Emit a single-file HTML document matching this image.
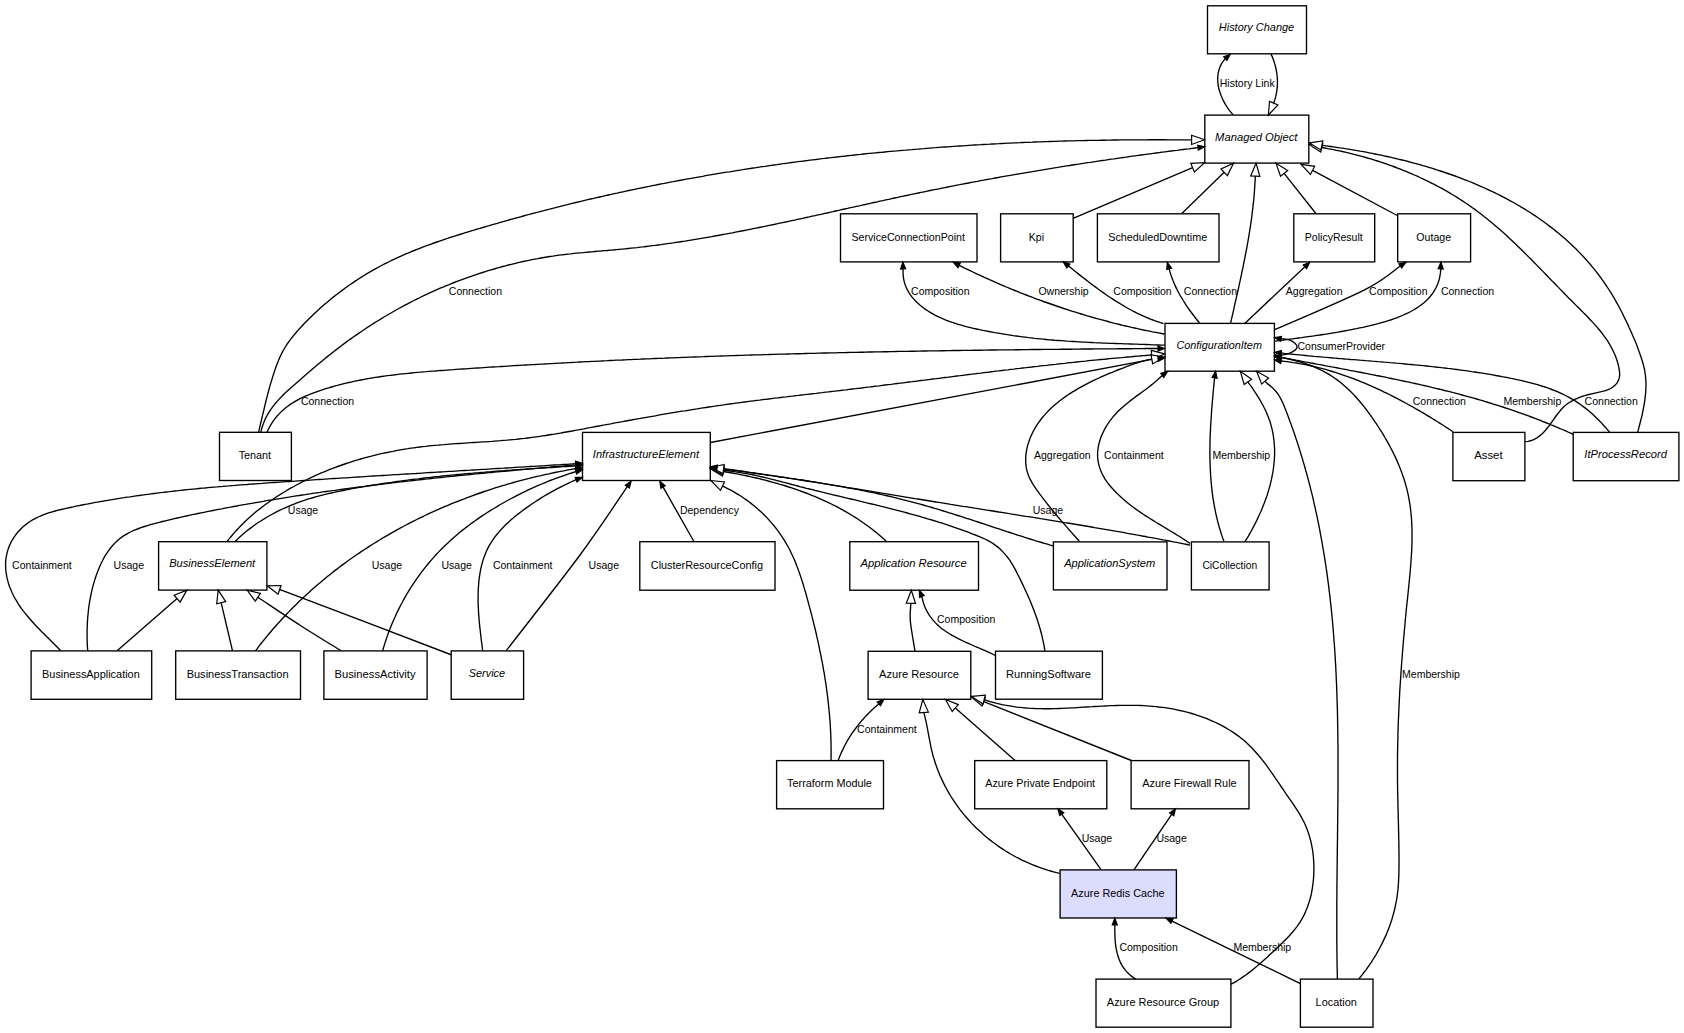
<!DOCTYPE html><html><head><meta charset="utf-8"><style>html,body{margin:0;padding:0;background:#fff;}svg{display:block;}</style></head><body>
<svg width="1684" height="1033" viewBox="0 0 1684 1033">
<rect x="0" y="0" width="1684" height="1033" fill="#fff"/>
<g fill="none" stroke="#000" stroke-width="1.35">
<path d="M1233.2,115.0 L1231.2,112.6 L1229.2,110.1 L1227.3,107.4 L1225.5,104.6 L1223.9,101.7 L1222.4,98.7 L1221.1,95.6 L1220.0,92.5 L1219.0,89.3 L1218.3,86.1 L1217.9,82.8 L1217.7,79.6 L1217.8,76.4 L1218.2,73.2 L1218.9,70.1 L1219.9,67.1 L1221.3,64.2 L1223.1,61.3 L1225.3,58.6"/>
<path d="M1271.0,54.0 L1272.4,57.1 L1273.6,60.2 L1274.6,63.4 L1275.5,66.7 L1276.2,70.0 L1276.8,73.3 L1277.2,76.7 L1277.4,80.0 L1277.4,83.4 L1277.3,86.7 L1276.9,90.1 L1276.4,93.4 L1275.7,96.7 L1274.8,99.9 L1273.7,103.1"/>
<path d="M258.6,432.2 L259.3,429.3 L259.9,426.4 L260.6,423.5 L261.3,420.6 L262.0,417.7 L262.7,414.7 L263.4,411.8 L264.1,408.9 L264.8,405.9 L265.5,403.0 L266.2,400.0 L267.0,397.1 L267.7,394.1 L268.5,391.2 L269.3,388.3 L270.1,385.4 L271.0,382.4 L271.9,379.5 L272.7,376.6 L273.7,373.8 L274.6,370.9 L275.6,368.0 L276.6,365.2 L277.7,362.4 L278.8,359.7 L280.0,356.9 L281.3,354.3 L282.6,351.6 L284.1,349.0 L285.6,346.5 L287.2,344.0 L288.9,341.6 L290.7,339.2 L292.5,336.8 L294.4,334.5 L296.4,332.2 L298.3,329.9 L300.4,327.7 L302.4,325.5 L304.5,323.3 L306.6,321.2 L308.8,319.0 L310.9,316.9 L313.1,314.8 L315.3,312.7 L317.5,310.7 L319.8,308.6 L322.0,306.6 L324.3,304.6 L326.6,302.7 L328.9,300.7 L331.2,298.8 L333.6,296.9 L336.0,295.0 L338.4,293.2 L340.8,291.4 L343.2,289.6 L345.6,287.8 L348.1,286.0 L350.6,284.3 L353.1,282.6 L355.6,280.9 L358.1,279.2 L360.6,277.6 L363.2,276.0 L365.8,274.4 L368.3,272.9 L370.9,271.4 L373.6,269.9 L376.2,268.4 L378.8,267.0 L381.5,265.5 L384.1,264.1 L386.8,262.8 L389.5,261.5 L392.2,260.1 L394.9,258.9 L397.6,257.6 L400.4,256.4 L403.1,255.1 L405.9,253.9 L408.6,252.8 L411.4,251.6 L414.2,250.5 L417.0,249.4 L419.8,248.3 L422.6,247.2 L425.4,246.1 L428.2,245.1 L431.1,244.1 L433.9,243.0 L436.8,242.0 L439.6,241.1 L442.5,240.1 L445.3,239.1 L448.2,238.2 L451.0,237.2 L453.9,236.3 L456.8,235.4 L459.7,234.5 L462.6,233.6 L465.4,232.7 L468.3,231.8 L471.2,230.9 L474.1,230.1 L477.0,229.2 L479.9,228.3 L482.8,227.5 L485.7,226.6 L488.6,225.8 L491.5,224.9 L494.4,224.1 L497.3,223.3 L500.2,222.4 L503.1,221.6 L506.0,220.8 L508.9,220.0 L511.8,219.2 L514.7,218.4 L517.6,217.6 L520.5,216.8 L523.4,216.0 L526.3,215.2 L529.3,214.4 L532.2,213.6 L535.1,212.8 L538.0,212.1 L540.9,211.3 L543.8,210.6 L546.7,209.8 L549.7,209.1 L552.6,208.3 L555.5,207.6 L558.4,206.8 L561.4,206.1 L564.3,205.4 L567.2,204.7 L570.1,203.9 L573.1,203.2 L576.0,202.5 L578.9,201.8 L581.8,201.1 L584.8,200.4 L587.7,199.7 L590.6,199.0 L593.6,198.4 L596.5,197.7 L599.4,197.0 L602.4,196.4 L605.3,195.7 L608.3,195.0 L611.2,194.4 L614.1,193.7 L617.1,193.1 L620.0,192.4 L623.0,191.8 L625.9,191.2 L628.8,190.5 L631.8,189.9 L634.7,189.3 L637.7,188.7 L640.6,188.1 L643.6,187.5 L646.5,186.9 L649.5,186.3 L652.4,185.7 L655.4,185.1 L658.3,184.5 L661.3,183.9 L664.2,183.4 L667.2,182.8 L670.1,182.2 L673.1,181.7 L676.1,181.1 L679.0,180.5 L682.0,180.0 L684.9,179.4 L687.9,178.9 L690.9,178.4 L693.8,177.8 L696.8,177.3 L699.7,176.8 L702.7,176.3 L705.7,175.7 L708.6,175.2 L711.6,174.7 L714.6,174.2 L717.5,173.7 L720.5,173.2 L723.5,172.7 L726.4,172.2 L729.4,171.8 L732.4,171.3 L735.4,170.8 L738.3,170.3 L741.3,169.9 L744.3,169.4 L747.3,168.9 L750.2,168.5 L753.2,168.0 L756.2,167.6 L759.2,167.1 L762.1,166.7 L765.1,166.3 L768.1,165.8 L771.1,165.4 L774.1,165.0 L777.0,164.6 L780.0,164.1 L783.0,163.7 L786.0,163.3 L789.0,162.9 L791.9,162.5 L794.9,162.1 L797.9,161.7 L800.9,161.3 L803.9,161.0 L806.9,160.6 L809.9,160.2 L812.8,159.8 L815.8,159.5 L818.8,159.1 L821.8,158.7 L824.8,158.4 L827.8,158.0 L830.8,157.7 L833.8,157.3 L836.8,157.0 L839.7,156.6 L842.7,156.3 L845.7,156.0 L848.7,155.6 L851.7,155.3 L854.7,155.0 L857.7,154.7 L860.7,154.4 L863.7,154.0 L866.7,153.7 L869.7,153.4 L872.7,153.1 L875.7,152.8 L878.7,152.5 L881.7,152.3 L884.7,152.0 L887.7,151.7 L890.7,151.4 L893.7,151.1 L896.7,150.9 L899.7,150.6 L902.7,150.3 L905.7,150.1 L908.7,149.8 L911.7,149.6 L914.7,149.3 L917.7,149.1 L920.7,148.8 L923.7,148.6 L926.7,148.3 L929.7,148.1 L932.7,147.9 L935.7,147.7 L938.7,147.4 L941.7,147.2 L944.7,147.0 L947.7,146.8 L950.7,146.6 L953.7,146.4 L956.7,146.2 L959.7,146.0 L962.8,145.8 L965.8,145.6 L968.8,145.4 L971.8,145.2 L974.8,145.0 L977.8,144.8 L980.8,144.7 L983.8,144.5 L986.8,144.3 L989.8,144.2 L992.8,144.0 L995.8,143.8 L998.9,143.7 L1001.9,143.5 L1004.9,143.4 L1007.9,143.2 L1010.9,143.1 L1013.9,142.9 L1016.9,142.8 L1019.9,142.7 L1022.9,142.5 L1025.9,142.4 L1029.0,142.3 L1032.0,142.2 L1035.0,142.0 L1038.0,141.9 L1041.0,141.8 L1044.0,141.7 L1047.0,141.6 L1050.0,141.5 L1053.0,141.4 L1056.1,141.3 L1059.1,141.2 L1062.1,141.1 L1065.1,141.0 L1068.1,140.9 L1071.1,140.9 L1074.1,140.8 L1077.1,140.7 L1080.2,140.6 L1083.2,140.6 L1086.2,140.5 L1089.2,140.4 L1092.2,140.4 L1095.2,140.3 L1098.2,140.3 L1101.2,140.2 L1104.3,140.2 L1107.3,140.1 L1110.3,140.1 L1113.3,140.0 L1116.3,140.0 L1119.3,139.9 L1122.3,139.9 L1125.3,139.9 L1128.4,139.9 L1131.4,139.8 L1134.4,139.8 L1137.4,139.8 L1140.4,139.8 L1143.4,139.8 L1146.4,139.8 L1149.4,139.7 L1152.5,139.7 L1155.5,139.7 L1158.5,139.7 L1161.5,139.7 L1164.5,139.7 L1167.5,139.8 L1170.5,139.8 L1173.5,139.8 L1176.5,139.8 L1179.6,139.8 L1182.6,139.8 L1185.6,139.9 L1188.6,139.9 L1191.6,139.9"/>
<path d="M260.9,432.2 L261.6,429.2 L262.4,426.2 L263.4,423.4 L264.6,420.6 L265.8,417.9 L267.2,415.3 L268.6,412.8 L270.2,410.3 L271.9,407.9 L273.7,405.6 L275.5,403.3 L277.4,401.1 L279.4,398.9 L281.5,396.7 L283.6,394.6 L285.7,392.5 L287.9,390.5 L290.2,388.4 L292.4,386.4 L294.7,384.4 L297.0,382.4 L299.3,380.4 L301.5,378.4 L303.8,376.4 L306.1,374.5 L308.4,372.5 L310.7,370.5 L313.1,368.5 L315.4,366.6 L317.7,364.6 L320.0,362.7 L322.4,360.8 L324.7,358.8 L327.1,356.9 L329.4,355.0 L331.8,353.1 L334.2,351.3 L336.6,349.4 L339.0,347.6 L341.4,345.7 L343.8,343.9 L346.2,342.1 L348.7,340.3 L351.1,338.6 L353.6,336.8 L356.1,335.1 L358.6,333.4 L361.1,331.7 L363.6,330.0 L366.1,328.3 L368.6,326.6 L371.1,325.0 L373.7,323.4 L376.2,321.8 L378.8,320.2 L381.4,318.6 L384.0,317.0 L386.6,315.5 L389.2,314.0 L391.8,312.5 L394.4,311.0 L397.0,309.5 L399.7,308.0 L402.3,306.6 L405.0,305.2 L407.6,303.8 L410.3,302.4 L413.0,301.0 L415.7,299.7 L418.4,298.3 L421.1,297.0 L423.8,295.7 L426.5,294.4 L429.2,293.1 L432.0,291.9 L434.7,290.7 L437.5,289.4 L440.2,288.2 L443.0,287.1 L445.8,285.9 L448.6,284.8 L451.4,283.6 L454.2,282.5 L457.0,281.4 L459.8,280.4 L462.6,279.3 L465.4,278.3 L468.2,277.3 L471.1,276.3 L473.9,275.3 L476.8,274.3 L479.6,273.4 L482.5,272.5 L485.4,271.6 L488.2,270.7 L491.1,269.8 L494.0,269.0 L496.9,268.1 L499.8,267.3 L502.7,266.5 L505.6,265.8 L508.5,265.0 L511.5,264.3 L514.4,263.6 L517.3,262.9 L520.3,262.2 L523.2,261.5 L526.1,260.9 L529.1,260.3 L532.0,259.7 L535.0,259.1 L538.0,258.6 L540.9,258.0 L543.9,257.5 L546.9,257.0 L549.9,256.5 L552.9,256.1 L555.8,255.6 L558.8,255.2 L561.8,254.8 L564.8,254.5 L567.8,254.1 L570.9,253.8 L573.9,253.4 L576.9,253.1 L579.9,252.8 L582.9,252.6 L585.9,252.3 L588.9,252.0 L592.0,251.8 L595.0,251.5 L598.0,251.2 L601.0,251.0 L604.0,250.7 L607.1,250.5 L610.1,250.2 L613.1,250.0 L616.1,249.7 L619.1,249.4 L622.2,249.1 L625.2,248.8 L628.2,248.5 L631.2,248.2 L634.2,247.9 L637.2,247.6 L640.2,247.2 L643.2,246.9 L646.2,246.5 L649.2,246.1 L652.2,245.7 L655.2,245.4 L658.2,245.0 L661.1,244.6 L664.1,244.1 L667.1,243.7 L670.1,243.3 L673.1,242.9 L676.1,242.4 L679.0,242.0 L682.0,241.5 L685.0,241.1 L688.0,240.6 L690.9,240.1 L693.9,239.6 L696.9,239.1 L699.8,238.6 L702.8,238.1 L705.8,237.6 L708.8,237.1 L711.7,236.6 L714.7,236.0 L717.6,235.5 L720.6,235.0 L723.6,234.4 L726.5,233.9 L729.5,233.3 L732.5,232.8 L735.4,232.2 L738.4,231.6 L741.3,231.0 L744.3,230.5 L747.2,229.9 L750.2,229.3 L753.1,228.7 L756.1,228.1 L759.1,227.5 L762.0,226.9 L765.0,226.3 L767.9,225.7 L770.9,225.1 L773.8,224.5 L776.8,223.8 L779.7,223.2 L782.7,222.6 L785.6,222.0 L788.6,221.3 L791.5,220.7 L794.5,220.1 L797.4,219.4 L800.4,218.8 L803.3,218.2 L806.3,217.5 L809.2,216.9 L812.1,216.2 L815.1,215.6 L818.0,214.9 L821.0,214.3 L823.9,213.6 L826.9,213.0 L829.8,212.3 L832.8,211.7 L835.7,211.0 L838.7,210.4 L841.6,209.7 L844.6,209.0 L847.5,208.4 L850.4,207.7 L853.4,207.1 L856.3,206.4 L859.3,205.8 L862.2,205.1 L865.2,204.5 L868.1,203.8 L871.1,203.2 L874.0,202.5 L877.0,201.9 L879.9,201.2 L882.9,200.6 L885.8,199.9 L888.8,199.3 L891.7,198.6 L894.7,198.0 L897.6,197.4 L900.6,196.7 L903.5,196.1 L906.5,195.5 L909.4,194.8 L912.4,194.2 L915.3,193.6 L918.3,193.0 L921.2,192.4 L924.2,191.8 L927.1,191.2 L930.1,190.5 L933.0,189.9 L936.0,189.3 L939.0,188.8 L941.9,188.2 L944.9,187.6 L947.8,187.0 L950.8,186.4 L953.8,185.8 L956.7,185.2 L959.7,184.7 L962.6,184.1 L965.6,183.5 L968.6,183.0 L971.5,182.4 L974.5,181.8 L977.5,181.3 L980.4,180.7 L983.4,180.2 L986.4,179.6 L989.3,179.1 L992.3,178.6 L995.3,178.0 L998.2,177.5 L1001.2,176.9 L1004.2,176.4 L1007.1,175.9 L1010.1,175.4 L1013.1,174.8 L1016.0,174.3 L1019.0,173.8 L1022.0,173.3 L1025.0,172.8 L1027.9,172.3 L1030.9,171.8 L1033.9,171.3 L1036.8,170.8 L1039.8,170.3 L1042.8,169.8 L1045.8,169.3 L1048.7,168.8 L1051.7,168.3 L1054.7,167.8 L1057.7,167.4 L1060.7,166.9 L1063.6,166.4 L1066.6,165.9 L1069.6,165.5 L1072.6,165.0 L1075.6,164.5 L1078.5,164.1 L1081.5,163.6 L1084.5,163.2 L1087.5,162.7 L1090.5,162.3 L1093.4,161.8 L1096.4,161.4 L1099.4,160.9 L1102.4,160.5 L1105.4,160.1 L1108.4,159.6 L1111.3,159.2 L1114.3,158.8 L1117.3,158.3 L1120.3,157.9 L1123.3,157.5 L1126.3,157.1 L1129.3,156.6 L1132.2,156.2 L1135.2,155.8 L1138.2,155.4 L1141.2,155.0 L1144.2,154.6 L1147.2,154.2 L1150.2,153.8 L1153.2,153.4 L1156.2,153.0 L1159.1,152.6 L1162.1,152.2 L1165.1,151.8 L1168.1,151.4 L1171.1,151.0 L1174.1,150.6 L1177.1,150.3 L1180.1,149.9 L1183.1,149.5 L1186.1,149.1 L1189.1,148.8 L1192.1,148.4 L1195.1,148.0 L1198.1,147.7"/>
<path d="M1072.5,218.6 L1192.6,167.7"/>
<path d="M1181.8,213.5 L1224.2,172.3"/>
<path d="M1230.5,323.4 L1231.2,320.4 L1231.9,317.3 L1232.6,314.3 L1233.3,311.3 L1234.0,308.2 L1234.6,305.2 L1235.3,302.2 L1236.0,299.1 L1236.7,296.1 L1237.4,293.0 L1238.1,290.0 L1238.8,286.9 L1239.4,283.9 L1240.1,280.9 L1240.7,277.8 L1241.4,274.8 L1242.0,271.7 L1242.7,268.7 L1243.3,265.6 L1243.9,262.6 L1244.5,259.5 L1245.1,256.4 L1245.7,253.4 L1246.3,250.3 L1246.9,247.3 L1247.4,244.2 L1248.0,241.1 L1248.5,238.1 L1249.0,235.0 L1249.5,231.9 L1250.0,228.8 L1250.5,225.8 L1250.9,222.7 L1251.4,219.6 L1251.8,216.5 L1252.2,213.4 L1252.5,210.3 L1252.9,207.3 L1253.2,204.2 L1253.6,201.1 L1253.9,198.0 L1254.1,194.9 L1254.4,191.8 L1254.6,188.6 L1254.8,185.5 L1255.0,182.4 L1255.2,179.3 L1255.3,176.2"/>
<path d="M1315.9,213.5 L1284.1,173.4"/>
<path d="M1398.2,216.0 L1312.6,170.4"/>
<path d="M1524.9,441.7 L1528.2,441.3 L1531.3,440.5 L1534.2,439.3 L1536.9,437.9 L1539.3,436.1 L1541.7,434.2 L1543.9,432.1 L1545.9,429.7 L1547.9,427.3 L1549.8,424.8 L1551.7,422.2 L1553.5,419.6 L1555.3,417.0 L1557.2,414.5 L1559.1,412.1 L1561.0,409.8 L1563.0,407.6 L1565.2,405.6 L1567.4,403.8 L1569.7,402.2 L1572.2,400.8 L1574.7,399.4 L1577.4,398.3 L1580.1,397.2 L1582.9,396.2 L1585.8,395.3 L1588.8,394.5 L1591.8,393.8 L1595.0,393.1 L1598.2,392.4 L1601.4,391.7 L1604.6,390.8 L1607.6,389.8 L1610.4,388.6 L1613.0,387.0 L1615.2,385.1 L1617.1,382.9 L1618.4,380.4 L1619.3,377.7 L1619.7,374.8 L1619.5,371.8 L1619.1,368.7 L1618.4,365.7 L1617.7,362.7 L1616.8,359.8 L1615.8,357.0 L1614.7,354.2 L1613.4,351.5 L1612.1,348.9 L1610.7,346.3 L1609.2,343.7 L1607.7,341.2 L1606.0,338.7 L1604.3,336.3 L1602.5,333.9 L1600.7,331.5 L1598.8,329.2 L1596.8,326.9 L1594.8,324.6 L1592.8,322.4 L1590.7,320.2 L1588.6,318.0 L1586.5,315.8 L1584.3,313.6 L1582.2,311.4 L1580.0,309.2 L1577.8,307.1 L1575.6,304.9 L1573.5,302.7 L1571.3,300.5 L1569.1,298.4 L1567.0,296.2 L1564.8,294.0 L1562.7,291.8 L1560.6,289.6 L1558.4,287.4 L1556.3,285.2 L1554.2,283.1 L1552.0,280.9 L1549.9,278.7 L1547.8,276.5 L1545.7,274.3 L1543.6,272.1 L1541.5,269.9 L1539.3,267.8 L1537.2,265.6 L1535.1,263.4 L1533.0,261.3 L1530.9,259.1 L1528.7,257.0 L1526.6,254.9 L1524.5,252.7 L1522.3,250.6 L1520.2,248.5 L1518.0,246.4 L1515.8,244.3 L1513.7,242.3 L1511.5,240.2 L1509.3,238.2 L1507.1,236.1 L1504.9,234.1 L1502.6,232.1 L1500.4,230.1 L1498.1,228.1 L1495.9,226.2 L1493.6,224.2 L1491.3,222.3 L1489.0,220.4 L1486.7,218.5 L1484.3,216.7 L1482.0,214.8 L1479.6,213.0 L1477.2,211.2 L1474.8,209.4 L1472.4,207.7 L1469.9,205.9 L1467.4,204.2 L1464.9,202.5 L1462.4,200.9 L1459.9,199.3 L1457.4,197.6 L1454.8,196.0 L1452.2,194.5 L1449.6,192.9 L1447.0,191.4 L1444.4,189.9 L1441.7,188.4 L1439.1,187.0 L1436.4,185.6 L1433.7,184.2 L1431.0,182.8 L1428.2,181.4 L1425.5,180.1 L1422.8,178.8 L1420.0,177.5 L1417.2,176.2 L1414.4,175.0 L1411.7,173.8 L1408.8,172.6 L1406.0,171.4 L1403.2,170.3 L1400.4,169.2 L1397.5,168.1 L1394.7,167.0 L1391.8,165.9 L1388.9,164.9 L1386.1,163.9 L1383.2,162.9 L1380.3,161.9 L1377.4,161.0 L1374.5,160.1 L1371.6,159.2 L1368.7,158.3 L1365.7,157.5 L1362.8,156.7 L1359.9,155.9 L1357.0,155.1 L1354.0,154.3 L1351.1,153.6 L1348.2,152.9 L1345.2,152.2 L1342.3,151.5 L1339.4,150.9 L1336.4,150.3 L1333.5,149.7 L1330.5,149.1 L1327.6,148.6 L1324.7,148.0 L1321.7,147.5"/>
<path d="M1637.6,432.4 L1638.4,429.6 L1639.1,426.7 L1639.9,423.8 L1640.6,420.9 L1641.4,417.9 L1642.1,415.0 L1642.7,412.0 L1643.3,408.9 L1643.9,405.9 L1644.4,402.9 L1644.9,399.8 L1645.2,396.7 L1645.6,393.7 L1645.8,390.6 L1645.9,387.6 L1646.0,384.5 L1645.9,381.5 L1645.7,378.5 L1645.4,375.5 L1645.0,372.5 L1644.5,369.5 L1643.8,366.6 L1643.1,363.7 L1642.2,360.8 L1641.3,357.9 L1640.3,355.1 L1639.3,352.3 L1638.3,349.4 L1637.3,346.6 L1636.2,343.8 L1635.1,341.1 L1633.9,338.3 L1632.7,335.5 L1631.5,332.7 L1630.3,330.0 L1629.0,327.2 L1627.8,324.4 L1626.5,321.7 L1625.1,318.9 L1623.7,316.1 L1622.4,313.3 L1620.9,310.5 L1619.5,307.8 L1618.0,305.0 L1616.5,302.3 L1615.0,299.6 L1613.4,296.9 L1611.8,294.2 L1610.2,291.6 L1608.5,289.0 L1606.8,286.4 L1605.1,283.9 L1603.4,281.4 L1601.6,278.9 L1599.8,276.4 L1598.0,274.0 L1596.1,271.6 L1594.2,269.2 L1592.3,266.9 L1590.4,264.5 L1588.4,262.3 L1586.4,260.0 L1584.4,257.8 L1582.3,255.5 L1580.3,253.4 L1578.2,251.2 L1576.1,249.1 L1573.9,247.0 L1571.8,244.9 L1569.6,242.9 L1567.3,240.8 L1565.1,238.8 L1562.8,236.9 L1560.6,234.9 L1558.3,233.0 L1555.9,231.1 L1553.6,229.2 L1551.2,227.4 L1548.8,225.6 L1546.4,223.8 L1544.0,222.0 L1541.6,220.2 L1539.1,218.5 L1536.6,216.8 L1534.1,215.1 L1531.6,213.5 L1529.0,211.8 L1526.5,210.2 L1523.9,208.6 L1521.3,207.1 L1518.7,205.5 L1516.1,204.0 L1513.5,202.5 L1510.8,201.1 L1508.1,199.6 L1505.5,198.2 L1502.8,196.8 L1500.1,195.4 L1497.3,194.0 L1494.6,192.7 L1491.8,191.4 L1489.1,190.1 L1486.3,188.8 L1483.5,187.5 L1480.7,186.3 L1477.9,185.1 L1475.1,183.9 L1472.3,182.7 L1469.4,181.5 L1466.6,180.4 L1463.7,179.3 L1460.8,178.2 L1458.0,177.1 L1455.1,176.0 L1452.2,175.0 L1449.3,174.0 L1446.4,173.0 L1443.4,172.0 L1440.5,171.0 L1437.6,170.1 L1434.7,169.1 L1431.7,168.2 L1428.8,167.3 L1425.8,166.4 L1422.8,165.6 L1419.9,164.7 L1416.9,163.9 L1413.9,163.1 L1411.0,162.3 L1408.0,161.5 L1405.0,160.7 L1402.0,160.0 L1399.0,159.3 L1396.1,158.6 L1393.1,157.9 L1390.1,157.2 L1387.1,156.5 L1384.1,155.8 L1381.1,155.2 L1378.1,154.6 L1375.1,154.0 L1372.2,153.4 L1369.2,152.8 L1366.2,152.2 L1363.2,151.7 L1360.2,151.2 L1357.2,150.6 L1354.3,150.1 L1351.3,149.6 L1348.3,149.1 L1345.4,148.7 L1342.4,148.2 L1339.5,147.8 L1336.5,147.3 L1333.6,146.9 L1330.6,146.5 L1327.7,146.1 L1324.8,145.7 L1321.8,145.4"/>
<path d="M1164.8,345.2 L1161.7,345.1 L1158.5,345.0 L1155.4,344.9 L1152.3,344.8 L1149.2,344.6 L1146.1,344.5 L1143.0,344.4 L1139.9,344.3 L1136.9,344.2 L1133.8,344.1 L1130.7,344.0 L1127.7,343.9 L1124.6,343.8 L1121.6,343.7 L1118.5,343.6 L1115.5,343.5 L1112.4,343.4 L1109.4,343.3 L1106.4,343.2 L1103.4,343.1 L1100.3,342.9 L1097.3,342.8 L1094.3,342.7 L1091.3,342.5 L1088.3,342.4 L1085.3,342.2 L1082.3,342.1 L1079.3,341.9 L1076.3,341.7 L1073.3,341.5 L1070.3,341.4 L1067.3,341.2 L1064.3,340.9 L1061.3,340.7 L1058.3,340.5 L1055.3,340.3 L1052.3,340.0 L1049.3,339.8 L1046.3,339.5 L1043.3,339.2 L1040.3,338.9 L1037.3,338.6 L1034.3,338.3 L1031.3,337.9 L1028.3,337.6 L1025.3,337.2 L1022.2,336.8 L1019.2,336.4 L1016.2,336.0 L1013.2,335.6 L1010.1,335.1 L1007.1,334.7 L1004.1,334.2 L1001.0,333.7 L998.0,333.2 L994.9,332.7 L991.9,332.1 L988.8,331.5 L985.7,330.9 L982.7,330.3 L979.6,329.7 L976.5,329.0 L973.4,328.3 L970.4,327.6 L967.3,326.9 L964.3,326.1 L961.3,325.2 L958.2,324.3 L955.3,323.4 L952.3,322.4 L949.4,321.4 L946.5,320.3 L943.7,319.1 L940.9,317.9 L938.1,316.6 L935.4,315.3 L932.8,313.8 L930.2,312.3 L927.6,310.8 L925.1,309.1 L922.7,307.3 L920.4,305.5 L918.2,303.6 L916.0,301.5 L914.0,299.4 L912.1,297.2 L910.4,294.8 L908.8,292.4 L907.4,289.9 L906.1,287.2 L905.1,284.5 L904.2,281.6 L903.6,278.6 L903.2,275.5 L903.0,272.3 L903.1,268.9"/>
<path d="M1164.6,334.0 L1161.6,333.5 L1158.6,332.9 L1155.6,332.3 L1152.6,331.8 L1149.6,331.2 L1146.6,330.6 L1143.6,330.0 L1140.6,329.3 L1137.6,328.7 L1134.6,328.0 L1131.7,327.4 L1128.7,326.7 L1125.7,326.0 L1122.7,325.3 L1119.7,324.5 L1116.8,323.8 L1113.8,323.1 L1110.8,322.3 L1107.9,321.5 L1104.9,320.7 L1102.0,319.9 L1099.0,319.1 L1096.0,318.3 L1093.1,317.5 L1090.1,316.6 L1087.2,315.8 L1084.3,314.9 L1081.3,314.0 L1078.4,313.1 L1075.5,312.2 L1072.5,311.3 L1069.6,310.4 L1066.7,309.4 L1063.8,308.5 L1060.9,307.5 L1058.0,306.5 L1055.1,305.5 L1052.2,304.5 L1049.3,303.5 L1046.4,302.5 L1043.5,301.5 L1040.6,300.4 L1037.7,299.4 L1034.8,298.3 L1032.0,297.2 L1029.1,296.1 L1026.2,295.0 L1023.4,293.9 L1020.5,292.8 L1017.7,291.6 L1014.9,290.5 L1012.0,289.3 L1009.2,288.2 L1006.4,287.0 L1003.5,285.8 L1000.7,284.6 L997.9,283.4 L995.1,282.2 L992.3,280.9 L989.5,279.7 L986.7,278.4 L983.9,277.2 L981.2,275.9 L978.4,274.6 L975.6,273.3 L972.9,272.0 L970.1,270.7 L967.4,269.4 L964.6,268.1 L961.9,266.7 L959.1,265.4"/>
<path d="M1163.4,323.5 L1160.4,322.6 L1157.4,321.6 L1154.5,320.6 L1151.6,319.5 L1148.7,318.3 L1145.8,317.1 L1143.0,315.9 L1140.2,314.6 L1137.4,313.3 L1134.6,311.9 L1131.8,310.5 L1129.1,309.0 L1126.4,307.5 L1123.7,305.9 L1121.1,304.3 L1118.4,302.7 L1115.8,301.1 L1113.2,299.4 L1110.6,297.7 L1108.0,296.0 L1105.4,294.2 L1102.9,292.4 L1100.3,290.6 L1097.8,288.8 L1095.3,286.9 L1092.8,285.1 L1090.3,283.2 L1087.8,281.3 L1085.4,279.4 L1082.9,277.5 L1080.5,275.6 L1078.0,273.6 L1075.6,271.7 L1073.2,269.8 L1070.8,267.8 L1068.4,265.9"/>
<path d="M1199.8,323.4 L1197.9,321.0 L1195.9,318.5 L1194.0,316.0 L1192.1,313.5 L1190.2,311.0 L1188.4,308.4 L1186.6,305.8 L1184.9,303.1 L1183.2,300.5 L1181.5,297.7 L1179.9,295.0 L1178.4,292.2 L1176.9,289.4 L1175.6,286.6 L1174.3,283.7 L1173.1,280.8 L1172.0,277.9 L1170.9,274.9 L1170.0,271.9 L1169.2,268.8"/>
<path d="M1244.7,323.4 L1304.9,266.8"/>
<path d="M1274.6,329.7 C1289.6,323.1 1343.6,300.4 1364.6,289.8 C1385.6,279.2 1394.4,269.9 1400.3,266.0"/>
<path d="M1274.4,341.2 L1277.4,340.8 L1280.5,340.4 L1283.5,340.0 L1286.6,339.6 L1289.6,339.2 L1292.6,338.8 L1295.7,338.4 L1298.7,338.0 L1301.7,337.6 L1304.8,337.1 L1307.8,336.7 L1310.8,336.3 L1313.8,335.9 L1316.9,335.4 L1319.9,335.0 L1323.0,334.5 L1326.0,334.1 L1329.0,333.6 L1332.1,333.1 L1335.1,332.6 L1338.2,332.1 L1341.2,331.5 L1344.3,331.0 L1347.4,330.4 L1350.4,329.8 L1353.5,329.2 L1356.6,328.6 L1359.7,327.9 L1362.8,327.3 L1365.9,326.6 L1369.0,325.9 L1372.1,325.1 L1375.2,324.4 L1378.3,323.6 L1381.4,322.7 L1384.5,321.8 L1387.6,320.9 L1390.6,320.0 L1393.6,318.9 L1396.6,317.9 L1399.5,316.7 L1402.4,315.5 L1405.3,314.2 L1408.1,312.9 L1410.8,311.5 L1413.5,310.0 L1416.1,308.4 L1418.6,306.8 L1421.0,305.0 L1423.4,303.2 L1425.6,301.2 L1427.7,299.2 L1429.7,297.0 L1431.6,294.8 L1433.3,292.4 L1434.8,289.9 L1436.2,287.3 L1437.5,284.6 L1438.5,281.7 L1439.4,278.7 L1440.0,275.6 L1440.5,272.3 L1440.7,268.9"/>
<path d="M1274.4,354.5 L1276.9,355.3 L1280.5,355.3 L1284.5,354.7 L1288.7,353.5 L1292.4,351.8 L1295.4,349.9 L1297.0,347.7 L1296.8,345.4 L1295.0,343.2 L1292.0,341.2 L1288.4,339.7 L1284.5,338.8 L1281.1,338.8"/>
<path d="M267.1,432.2 L268.4,429.2 L269.9,426.4 L271.5,423.7 L273.2,421.1 L275.0,418.7 L276.9,416.3 L278.9,414.1 L281.0,411.9 L283.2,409.9 L285.4,408.0 L287.8,406.2 L290.2,404.4 L292.7,402.8 L295.2,401.3 L297.8,399.8 L300.5,398.4 L303.2,397.1 L305.9,395.9 L308.7,394.8 L311.5,393.6 L314.4,392.6 L317.2,391.6 L320.0,390.6 L322.9,389.7 L325.8,388.7 L328.6,387.9 L331.5,387.0 L334.4,386.2 L337.3,385.4 L340.2,384.6 L343.1,383.9 L346.0,383.2 L348.9,382.5 L351.9,381.9 L354.8,381.2 L357.7,380.6 L360.7,380.0 L363.6,379.5 L366.6,378.9 L369.5,378.4 L372.5,377.9 L375.4,377.4 L378.4,377.0 L381.4,376.5 L384.3,376.1 L387.3,375.7 L390.3,375.3 L393.3,375.0 L396.3,374.6 L399.3,374.2 L402.3,373.9 L405.3,373.6 L408.3,373.3 L411.3,373.0 L414.3,372.7 L417.3,372.4 L420.3,372.2 L423.3,371.9 L426.3,371.7 L429.3,371.4 L432.3,371.2 L435.3,371.0 L438.3,370.7 L441.4,370.5 L444.4,370.3 L447.4,370.1 L450.4,369.9 L453.4,369.7 L456.4,369.4 L459.4,369.2 L462.5,369.0 L465.5,368.8 L468.5,368.6 L471.5,368.4 L474.5,368.2 L477.5,368.0 L480.5,367.8 L483.6,367.6 L486.6,367.4 L489.6,367.2 L492.6,367.0 L495.6,366.8 L498.6,366.7 L501.6,366.5 L504.7,366.3 L507.7,366.1 L510.7,365.9 L513.7,365.7 L516.7,365.5 L519.7,365.4 L522.7,365.2 L525.7,365.0 L528.8,364.8 L531.8,364.6 L534.8,364.5 L537.8,364.3 L540.8,364.1 L543.8,364.0 L546.8,363.8 L549.8,363.6 L552.8,363.5 L555.9,363.3 L558.9,363.1 L561.9,363.0 L564.9,362.8 L567.9,362.6 L570.9,362.5 L573.9,362.3 L576.9,362.2 L580.0,362.0 L583.0,361.9 L586.0,361.7 L589.0,361.6 L592.0,361.4 L595.0,361.3 L598.0,361.1 L601.0,361.0 L604.0,360.8 L607.0,360.7 L610.1,360.5 L613.1,360.4 L616.1,360.2 L619.1,360.1 L622.1,360.0 L625.1,359.8 L628.1,359.7 L631.1,359.6 L634.1,359.4 L637.2,359.3 L640.2,359.2 L643.2,359.0 L646.2,358.9 L649.2,358.8 L652.2,358.6 L655.2,358.5 L658.2,358.4 L661.2,358.3 L664.2,358.2 L667.2,358.0 L670.3,357.9 L673.3,357.8 L676.3,357.7 L679.3,357.6 L682.3,357.4 L685.3,357.3 L688.3,357.2 L691.3,357.1 L694.3,357.0 L697.3,356.9 L700.4,356.8 L703.4,356.7 L706.4,356.5 L709.4,356.4 L712.4,356.3 L715.4,356.2 L718.4,356.1 L721.4,356.0 L724.4,355.9 L727.4,355.8 L730.4,355.7 L733.5,355.6 L736.5,355.5 L739.5,355.4 L742.5,355.3 L745.5,355.2 L748.5,355.1 L751.5,355.0 L754.5,354.9 L757.5,354.9 L760.5,354.8 L763.5,354.7 L766.6,354.6 L769.6,354.5 L772.6,354.4 L775.6,354.3 L778.6,354.2 L781.6,354.1 L784.6,354.1 L787.6,354.0 L790.6,353.9 L793.6,353.8 L796.6,353.7 L799.7,353.7 L802.7,353.6 L805.7,353.5 L808.7,353.4 L811.7,353.3 L814.7,353.3 L817.7,353.2 L820.7,353.1 L823.7,353.0 L826.7,353.0 L829.7,352.9 L832.7,352.8 L835.8,352.8 L838.8,352.7 L841.8,352.6 L844.8,352.6 L847.8,352.5 L850.8,352.4 L853.8,352.4 L856.8,352.3 L859.8,352.2 L862.8,352.2 L865.8,352.1 L868.9,352.0 L871.9,352.0 L874.9,351.9 L877.9,351.8 L880.9,351.8 L883.9,351.7 L886.9,351.7 L889.9,351.6 L892.9,351.6 L895.9,351.5 L899.0,351.4 L902.0,351.4 L905.0,351.3 L908.0,351.3 L911.0,351.2 L914.0,351.2 L917.0,351.1 L920.0,351.1 L923.0,351.0 L926.0,351.0 L929.1,350.9 L932.1,350.9 L935.1,350.8 L938.1,350.8 L941.1,350.7 L944.1,350.7 L947.1,350.6 L950.1,350.6 L953.1,350.5 L956.1,350.5 L959.2,350.5 L962.2,350.4 L965.2,350.4 L968.2,350.3 L971.2,350.3 L974.2,350.2 L977.2,350.2 L980.2,350.2 L983.2,350.1 L986.2,350.1 L989.3,350.0 L992.3,350.0 L995.3,350.0 L998.3,349.9 L1001.3,349.9 L1004.3,349.9 L1007.3,349.8 L1010.3,349.8 L1013.3,349.8 L1016.4,349.7 L1019.4,349.7 L1022.4,349.6 L1025.4,349.6 L1028.4,349.6 L1031.4,349.5 L1034.4,349.5 L1037.4,349.5 L1040.5,349.5 L1043.5,349.4 L1046.5,349.4 L1049.5,349.4 L1052.5,349.3 L1055.5,349.3 L1058.5,349.3 L1061.5,349.2 L1064.6,349.2 L1067.6,349.2 L1070.6,349.2 L1073.6,349.1 L1076.6,349.1 L1079.6,349.1 L1082.6,349.0 L1085.6,349.0 L1088.7,349.0 L1091.7,349.0 L1094.7,348.9 L1097.7,348.9 L1100.7,348.9 L1103.7,348.9 L1106.7,348.8 L1109.8,348.8 L1112.8,348.8 L1115.8,348.8 L1118.8,348.7 L1121.8,348.7 L1124.8,348.7 L1127.8,348.7 L1130.9,348.7 L1133.9,348.6 L1136.9,348.6 L1139.9,348.6 L1142.9,348.6 L1145.9,348.5 L1149.0,348.5 L1152.0,348.5 L1155.0,348.5 L1158.0,348.5"/>
<path d="M226.9,541.7 L228.8,539.3 L230.7,537.0 L232.6,534.7 L234.6,532.4 L236.6,530.2 L238.7,528.0 L240.8,525.8 L242.9,523.7 L245.0,521.6 L247.2,519.5 L249.5,517.5 L251.7,515.5 L254.0,513.5 L256.3,511.6 L258.6,509.7 L261.0,507.9 L263.4,506.0 L265.8,504.2 L268.3,502.5 L270.7,500.7 L273.2,499.0 L275.7,497.4 L278.2,495.7 L280.8,494.1 L283.4,492.5 L285.9,491.0 L288.5,489.4 L291.1,487.9 L293.8,486.5 L296.4,485.0 L299.1,483.6 L301.8,482.2 L304.4,480.8 L307.1,479.5 L309.9,478.2 L312.6,476.9 L315.3,475.6 L318.1,474.4 L320.8,473.2 L323.6,472.0 L326.4,470.9 L329.2,469.7 L332.0,468.6 L334.8,467.6 L337.7,466.5 L340.5,465.5 L343.4,464.5 L346.2,463.5 L349.1,462.6 L352.0,461.6 L354.9,460.7 L357.8,459.9 L360.7,459.0 L363.6,458.2 L366.5,457.4 L369.4,456.6 L372.3,455.9 L375.3,455.1 L378.2,454.4 L381.2,453.7 L384.1,453.1 L387.1,452.5 L390.0,451.8 L393.0,451.3 L396.0,450.7 L398.9,450.1 L401.9,449.6 L404.9,449.1 L407.9,448.7 L410.9,448.2 L413.9,447.8 L416.8,447.4 L419.8,447.0 L422.8,446.6 L425.8,446.3 L428.8,445.9 L431.8,445.6 L434.8,445.3 L437.8,445.1 L440.8,444.8 L443.8,444.6 L446.8,444.3 L449.8,444.1 L452.8,443.9 L455.8,443.7 L458.8,443.5 L461.8,443.3 L464.8,443.1 L467.8,442.9 L470.8,442.7 L473.8,442.5 L476.8,442.3 L479.8,442.1 L482.8,441.9 L485.8,441.8 L488.8,441.6 L491.8,441.4 L494.8,441.1 L497.8,440.9 L500.8,440.7 L503.8,440.4 L506.8,440.2 L509.8,439.9 L512.8,439.6 L515.8,439.4 L518.7,439.0 L521.7,438.7 L524.7,438.4 L527.7,438.0 L530.7,437.6 L533.6,437.2 L536.6,436.8 L539.6,436.4 L542.6,435.9 L545.5,435.5 L548.5,435.0 L551.5,434.5 L554.4,434.1 L557.4,433.6 L560.4,433.1 L563.3,432.5 L566.3,432.0 L569.3,431.5 L572.2,431.0 L575.2,430.4 L578.2,429.9 L581.1,429.3 L584.1,428.8 L587.1,428.2 L590.0,427.7 L593.0,427.1 L595.9,426.5 L598.9,426.0 L601.9,425.4 L604.8,424.9 L607.8,424.3 L610.8,423.8 L613.7,423.2 L616.7,422.7 L619.7,422.1 L622.6,421.6 L625.6,421.0 L628.6,420.5 L631.5,420.0 L634.5,419.4 L637.5,418.9 L640.4,418.4 L643.4,417.8 L646.4,417.3 L649.3,416.8 L652.3,416.3 L655.3,415.8 L658.3,415.2 L661.2,414.7 L664.2,414.2 L667.2,413.7 L670.1,413.2 L673.1,412.7 L676.1,412.2 L679.1,411.7 L682.0,411.2 L685.0,410.8 L688.0,410.3 L691.0,409.8 L693.9,409.3 L696.9,408.9 L699.9,408.4 L702.9,407.9 L705.9,407.5 L708.8,407.0 L711.8,406.6 L714.8,406.2 L717.8,405.7 L720.8,405.3 L723.7,404.9 L726.7,404.4 L729.7,404.0 L732.7,403.6 L735.7,403.2 L738.7,402.8 L741.7,402.4 L744.6,402.0 L747.6,401.6 L750.6,401.2 L753.6,400.8 L756.6,400.4 L759.6,400.1 L762.6,399.7 L765.6,399.3 L768.5,399.0 L771.5,398.6 L774.5,398.2 L777.5,397.9 L780.5,397.5 L783.5,397.1 L786.5,396.8 L789.5,396.4 L792.5,396.1 L795.5,395.7 L798.5,395.4 L801.4,395.0 L804.4,394.7 L807.4,394.3 L810.4,394.0 L813.4,393.6 L816.4,393.3 L819.4,392.9 L822.4,392.6 L825.4,392.2 L828.4,391.9 L831.4,391.5 L834.4,391.2 L837.4,390.8 L840.3,390.5 L843.3,390.1 L846.3,389.8 L849.3,389.4 L852.3,389.0 L855.3,388.7 L858.3,388.3 L861.3,388.0 L864.3,387.6 L867.3,387.2 L870.3,386.9 L873.3,386.5 L876.2,386.1 L879.2,385.8 L882.2,385.4 L885.2,385.0 L888.2,384.6 L891.2,384.3 L894.2,383.9 L897.2,383.5 L900.2,383.2 L903.2,382.8 L906.1,382.4 L909.1,382.0 L912.1,381.7 L915.1,381.3 L918.1,380.9 L921.1,380.5 L924.1,380.2 L927.1,379.8 L930.1,379.4 L933.1,379.0 L936.0,378.7 L939.0,378.3 L942.0,377.9 L945.0,377.5 L948.0,377.2 L951.0,376.8 L954.0,376.4 L957.0,376.0 L960.0,375.7 L963.0,375.3 L965.9,374.9 L968.9,374.5 L971.9,374.2 L974.9,373.8 L977.9,373.4 L980.9,373.1 L983.9,372.7 L986.9,372.3 L989.9,372.0 L992.9,371.6 L995.8,371.2 L998.8,370.9 L1001.8,370.5 L1004.8,370.1 L1007.8,369.8 L1010.8,369.4 L1013.8,369.1 L1016.8,368.7 L1019.8,368.4 L1022.8,368.0 L1025.8,367.7 L1028.8,367.3 L1031.7,367.0 L1034.7,366.6 L1037.7,366.3 L1040.7,365.9 L1043.7,365.6 L1046.7,365.3 L1049.7,364.9 L1052.7,364.6 L1055.7,364.3 L1058.7,363.9 L1061.7,363.6 L1064.7,363.3 L1067.7,362.9 L1070.7,362.6 L1073.7,362.3 L1076.7,362.0 L1079.7,361.7 L1082.7,361.4 L1085.6,361.1 L1088.6,360.7 L1091.6,360.4 L1094.6,360.1 L1097.6,359.8 L1100.6,359.5 L1103.6,359.3 L1106.6,359.0 L1109.6,358.7 L1112.6,358.4 L1115.6,358.1 L1118.6,357.8 L1121.6,357.6 L1124.6,357.3 L1127.6,357.0 L1130.6,356.8 L1133.6,356.5 L1136.6,356.2 L1139.6,356.0 L1142.6,355.7 L1145.6,355.5 L1148.6,355.2 L1151.6,355.0"/>
<path d="M710.4,442.5 L1151.8,359.4"/>
<path d="M1079.7,541.6 L1077.6,539.3 L1075.6,537.0 L1073.5,534.7 L1071.5,532.4 L1069.5,530.2 L1067.5,527.9 L1065.5,525.6 L1063.5,523.3 L1061.5,521.1 L1059.6,518.8 L1057.6,516.5 L1055.7,514.2 L1053.7,511.8 L1051.8,509.5 L1049.9,507.1 L1048.0,504.8 L1046.1,502.3 L1044.2,499.9 L1042.3,497.4 L1040.4,494.9 L1038.6,492.4 L1036.7,489.8 L1034.9,487.2 L1033.2,484.6 L1031.6,481.9 L1030.1,479.1 L1028.8,476.3 L1027.8,473.5 L1026.9,470.6 L1026.3,467.7 L1025.9,464.7 L1025.7,461.7 L1025.7,458.7 L1025.8,455.7 L1026.2,452.7 L1026.7,449.7 L1027.3,446.8 L1028.1,443.9 L1029.1,441.0 L1030.1,438.1 L1031.3,435.4 L1032.6,432.6 L1034.0,430.0 L1035.4,427.4 L1037.0,424.9 L1038.7,422.4 L1040.5,420.0 L1042.3,417.7 L1044.2,415.4 L1046.2,413.1 L1048.3,411.0 L1050.5,408.8 L1052.7,406.8 L1055.0,404.7 L1057.4,402.8 L1059.8,400.8 L1062.2,399.0 L1064.8,397.1 L1067.3,395.3 L1069.9,393.6 L1072.6,391.9 L1075.3,390.3 L1078.0,388.7 L1080.8,387.1 L1083.6,385.6 L1086.4,384.1 L1089.2,382.6 L1092.1,381.2 L1094.9,379.8 L1097.8,378.5 L1100.7,377.2 L1103.6,375.9 L1106.4,374.7 L1109.3,373.4 L1112.2,372.3 L1115.1,371.1 L1117.9,370.0 L1120.8,368.9 L1123.6,367.8 L1126.4,366.7 L1129.1,365.7 L1131.9,364.7 L1134.6,363.7 L1137.3,362.8 L1140.0,361.9 L1142.8,361.1 L1145.6,360.3 L1148.5,359.7 L1151.6,359.2 L1154.7,358.9 L1158.0,358.7"/>
<path d="M1190.0,543.4 L1187.5,541.7 L1185.1,540.1 L1182.5,538.5 L1180.0,536.8 L1177.4,535.2 L1174.8,533.6 L1172.2,532.0 L1169.6,530.5 L1166.9,528.9 L1164.3,527.3 L1161.6,525.7 L1159.0,524.1 L1156.3,522.5 L1153.7,520.8 L1151.0,519.2 L1148.4,517.5 L1145.8,515.9 L1143.2,514.2 L1140.6,512.4 L1138.1,510.7 L1135.5,508.9 L1133.0,507.0 L1130.6,505.2 L1128.1,503.3 L1125.7,501.3 L1123.4,499.3 L1121.1,497.2 L1118.8,495.1 L1116.6,493.0 L1114.5,490.8 L1112.4,488.5 L1110.4,486.2 L1108.4,483.8 L1106.6,481.3 L1104.9,478.8 L1103.4,476.2 L1102.0,473.5 L1100.8,470.7 L1099.8,467.9 L1098.9,465.1 L1098.3,462.2 L1097.8,459.3 L1097.6,456.3 L1097.6,453.4 L1097.8,450.4 L1098.2,447.4 L1098.8,444.4 L1099.6,441.5 L1100.5,438.5 L1101.6,435.6 L1102.9,432.8 L1104.3,429.9 L1105.8,427.2 L1107.4,424.5 L1109.2,421.8 L1111.1,419.3 L1113.0,416.9 L1115.1,414.5 L1117.2,412.2 L1119.4,410.1 L1121.7,407.9 L1124.0,405.9 L1126.4,403.9 L1128.8,402.0 L1131.2,400.1 L1133.6,398.3 L1136.1,396.4 L1138.6,394.6 L1141.1,392.8 L1143.6,391.0 L1146.0,389.2 L1148.5,387.3 L1150.9,385.4 L1153.3,383.5 L1155.6,381.6 L1157.9,379.6 L1160.1,377.5 L1162.3,375.4"/>
<path d="M1223.9,541.2 L1222.8,538.3 L1221.8,535.4 L1220.9,532.5 L1220.0,529.5 L1219.1,526.6 L1218.3,523.7 L1217.5,520.7 L1216.8,517.7 L1216.1,514.8 L1215.5,511.8 L1214.9,508.8 L1214.3,505.8 L1213.8,502.8 L1213.3,499.8 L1212.8,496.8 L1212.4,493.8 L1212.0,490.7 L1211.7,487.7 L1211.4,484.7 L1211.1,481.6 L1210.9,478.6 L1210.6,475.5 L1210.5,472.5 L1210.3,469.4 L1210.2,466.4 L1210.1,463.3 L1210.0,460.3 L1209.9,457.2 L1209.9,454.1 L1209.9,451.1 L1209.9,448.0 L1210.0,444.9 L1210.0,441.9 L1210.1,438.8 L1210.2,435.7 L1210.3,432.7 L1210.5,429.6 L1210.6,426.5 L1210.8,423.5 L1211.0,420.4 L1211.2,417.3 L1211.4,414.3 L1211.6,411.2 L1211.8,408.2 L1212.1,405.1 L1212.3,402.1 L1212.6,399.0 L1212.9,396.0 L1213.1,392.9 L1213.4,389.9 L1213.7,386.9 L1214.0,383.9 L1214.3,380.8 L1214.6,377.8"/>
<path d="M1245.3,541.2 L1246.8,538.6 L1248.4,536.1 L1249.9,533.4 L1251.4,530.8 L1252.8,528.1 L1254.2,525.4 L1255.6,522.7 L1257.0,519.9 L1258.3,517.1 L1259.6,514.3 L1260.9,511.5 L1262.1,508.6 L1263.2,505.7 L1264.4,502.8 L1265.4,499.9 L1266.5,497.0 L1267.5,494.1 L1268.4,491.1 L1269.2,488.1 L1270.1,485.2 L1270.8,482.2 L1271.5,479.2 L1272.1,476.2 L1272.7,473.2 L1273.2,470.2 L1273.6,467.1 L1273.9,464.1 L1274.2,461.1 L1274.4,458.1 L1274.6,455.1 L1274.6,452.0 L1274.6,449.0 L1274.4,446.0 L1274.2,443.0 L1273.9,440.0 L1273.5,437.1 L1273.1,434.1 L1272.5,431.1 L1271.8,428.2 L1271.0,425.2 L1270.2,422.3 L1269.2,419.4 L1268.1,416.5 L1266.9,413.7 L1265.7,410.8 L1264.3,408.0 L1262.9,405.2 L1261.4,402.5 L1259.8,399.7 L1258.2,397.1 L1256.5,394.4 L1254.8,391.8 L1253.1,389.2 L1251.4,386.7 L1249.6,384.3 L1247.9,381.9"/>
<path d="M1337.4,979.1 L1337.3,976.1 L1337.3,973.1 L1337.2,970.0 L1337.1,967.0 L1337.1,964.0 L1337.0,961.0 L1337.0,958.0 L1337.0,954.9 L1336.9,951.9 L1336.9,948.9 L1336.9,945.9 L1336.8,942.9 L1336.8,939.8 L1336.8,936.8 L1336.8,933.8 L1336.8,930.8 L1336.8,927.7 L1336.8,924.7 L1336.8,921.7 L1336.8,918.7 L1336.8,915.6 L1336.8,912.6 L1336.8,909.6 L1336.8,906.6 L1336.8,903.5 L1336.8,900.5 L1336.9,897.5 L1336.9,894.5 L1336.9,891.4 L1336.9,888.4 L1336.9,885.4 L1337.0,882.4 L1337.0,879.3 L1337.0,876.3 L1337.1,873.3 L1337.1,870.3 L1337.1,867.2 L1337.2,864.2 L1337.2,861.2 L1337.2,858.2 L1337.3,855.1 L1337.3,852.1 L1337.3,849.1 L1337.4,846.0 L1337.4,843.0 L1337.5,840.0 L1337.5,837.0 L1337.5,833.9 L1337.6,830.9 L1337.6,827.9 L1337.6,824.9 L1337.7,821.8 L1337.7,818.8 L1337.7,815.8 L1337.8,812.7 L1337.8,809.7 L1337.8,806.7 L1337.9,803.7 L1337.9,800.6 L1337.9,797.6 L1337.9,794.6 L1338.0,791.6 L1338.0,788.5 L1338.0,785.5 L1338.0,782.5 L1338.0,779.5 L1338.0,776.4 L1338.0,773.4 L1338.0,770.4 L1338.0,767.3 L1338.0,764.3 L1338.0,761.3 L1338.0,758.3 L1338.0,755.2 L1338.0,752.2 L1338.0,749.2 L1338.0,746.2 L1337.9,743.2 L1337.9,740.1 L1337.9,737.1 L1337.8,734.1 L1337.8,731.1 L1337.7,728.0 L1337.7,725.0 L1337.6,722.0 L1337.6,719.0 L1337.5,715.9 L1337.5,712.9 L1337.4,709.9 L1337.3,706.9 L1337.2,703.9 L1337.1,700.8 L1337.0,697.8 L1336.9,694.8 L1336.8,691.8 L1336.7,688.8 L1336.6,685.7 L1336.5,682.7 L1336.3,679.7 L1336.2,676.7 L1336.1,673.7 L1335.9,670.7 L1335.8,667.6 L1335.6,664.6 L1335.4,661.6 L1335.3,658.6 L1335.1,655.6 L1334.9,652.6 L1334.7,649.5 L1334.5,646.5 L1334.3,643.5 L1334.0,640.5 L1333.8,637.5 L1333.6,634.5 L1333.3,631.5 L1333.1,628.5 L1332.8,625.5 L1332.6,622.4 L1332.3,619.4 L1332.0,616.4 L1331.7,613.4 L1331.4,610.4 L1331.1,607.4 L1330.8,604.4 L1330.4,601.4 L1330.1,598.4 L1329.8,595.4 L1329.4,592.4 L1329.0,589.4 L1328.7,586.4 L1328.3,583.4 L1327.9,580.4 L1327.5,577.4 L1327.1,574.4 L1326.7,571.4 L1326.2,568.4 L1325.8,565.4 L1325.3,562.4 L1324.9,559.4 L1324.4,556.5 L1323.9,553.5 L1323.4,550.5 L1322.9,547.5 L1322.4,544.5 L1321.9,541.6 L1321.3,538.6 L1320.8,535.6 L1320.2,532.6 L1319.7,529.7 L1319.1,526.7 L1318.5,523.7 L1317.9,520.8 L1317.3,517.8 L1316.7,514.8 L1316.0,511.9 L1315.4,508.9 L1314.7,506.0 L1314.0,503.0 L1313.4,500.1 L1312.7,497.1 L1312.0,494.2 L1311.2,491.2 L1310.5,488.3 L1309.8,485.4 L1309.0,482.4 L1308.2,479.5 L1307.5,476.6 L1306.7,473.6 L1305.8,470.7 L1305.0,467.8 L1304.2,464.9 L1303.3,462.0 L1302.5,459.1 L1301.6,456.2 L1300.7,453.3 L1299.8,450.4 L1298.9,447.5 L1298.0,444.6 L1297.1,441.7 L1296.1,438.9 L1295.2,436.0 L1294.2,433.1 L1293.2,430.3 L1292.2,427.4 L1291.2,424.6 L1290.1,421.8 L1289.1,419.0 L1288.0,416.1 L1287.0,413.3 L1285.9,410.5 L1284.8,407.8 L1283.7,405.0 L1282.5,402.3 L1281.2,399.6 L1279.8,397.0 L1278.2,394.4 L1276.4,392.0 L1274.4,389.6 L1272.2,387.4 L1269.7,385.4 L1267.1,383.4 L1265.2,381.1"/>
<path d="M1358.7,979.1 L1360.6,976.8 L1362.5,974.4 L1364.3,972.0 L1366.2,969.6 L1367.9,967.1 L1369.7,964.6 L1371.4,962.1 L1373.0,959.5 L1374.6,956.9 L1376.2,954.3 L1377.7,951.7 L1379.2,949.0 L1380.6,946.3 L1382.0,943.6 L1383.3,940.9 L1384.6,938.1 L1385.9,935.4 L1387.1,932.6 L1388.2,929.8 L1389.3,926.9 L1390.3,924.1 L1391.3,921.2 L1392.2,918.3 L1393.0,915.4 L1393.8,912.5 L1394.6,909.6 L1395.2,906.7 L1395.8,903.7 L1396.4,900.8 L1396.9,897.8 L1397.3,894.8 L1397.7,891.9 L1398.0,888.9 L1398.2,885.9 L1398.5,882.9 L1398.6,879.8 L1398.8,876.8 L1398.9,873.8 L1398.9,870.8 L1399.0,867.8 L1399.0,864.7 L1399.0,861.7 L1399.0,858.7 L1399.0,855.6 L1399.0,852.6 L1398.9,849.6 L1398.9,846.5 L1398.9,843.5 L1398.8,840.4 L1398.7,837.4 L1398.7,834.4 L1398.6,831.3 L1398.5,828.3 L1398.5,825.3 L1398.4,822.2 L1398.3,819.2 L1398.2,816.2 L1398.2,813.1 L1398.1,810.1 L1398.0,807.0 L1397.9,804.0 L1397.9,801.0 L1397.8,797.9 L1397.7,794.9 L1397.7,791.9 L1397.6,788.9 L1397.6,785.8 L1397.5,782.8 L1397.5,779.8 L1397.5,776.7 L1397.5,773.7 L1397.5,770.7 L1397.5,767.7 L1397.5,764.6 L1397.5,761.6 L1397.5,758.6 L1397.5,755.6 L1397.6,752.6 L1397.6,749.6 L1397.7,746.5 L1397.7,743.5 L1397.8,740.5 L1397.9,737.5 L1397.9,734.5 L1398.0,731.5 L1398.1,728.4 L1398.2,725.4 L1398.3,722.4 L1398.4,719.4 L1398.6,716.4 L1398.7,713.4 L1398.8,710.4 L1399.0,707.4 L1399.1,704.4 L1399.3,701.3 L1399.4,698.3 L1399.6,695.3 L1399.7,692.3 L1399.9,689.3 L1400.1,686.3 L1400.3,683.3 L1400.5,680.3 L1400.7,677.3 L1400.9,674.3 L1401.1,671.2 L1401.3,668.2 L1401.5,665.2 L1401.7,662.2 L1402.0,659.2 L1402.2,656.2 L1402.4,653.2 L1402.7,650.2 L1402.9,647.2 L1403.2,644.1 L1403.4,641.1 L1403.7,638.1 L1404.0,635.1 L1404.2,632.1 L1404.5,629.1 L1404.8,626.0 L1405.1,623.0 L1405.3,620.0 L1405.6,617.0 L1405.9,614.0 L1406.2,610.9 L1406.5,607.9 L1406.8,604.9 L1407.1,601.9 L1407.5,598.8 L1407.8,595.8 L1408.1,592.8 L1408.4,589.8 L1408.7,586.7 L1409.0,583.7 L1409.3,580.7 L1409.6,577.6 L1409.9,574.6 L1410.2,571.6 L1410.4,568.6 L1410.7,565.5 L1410.9,562.5 L1411.1,559.5 L1411.3,556.5 L1411.5,553.4 L1411.7,550.4 L1411.8,547.4 L1411.9,544.4 L1412.0,541.4 L1412.0,538.4 L1412.0,535.4 L1412.0,532.4 L1412.0,529.4 L1411.9,526.4 L1411.7,523.4 L1411.6,520.4 L1411.4,517.5 L1411.1,514.5 L1410.8,511.5 L1410.5,508.6 L1410.1,505.6 L1409.6,502.7 L1409.1,499.7 L1408.6,496.8 L1408.0,493.9 L1407.3,490.9 L1406.6,488.0 L1405.8,485.1 L1405.0,482.2 L1404.1,479.3 L1403.1,476.5 L1402.1,473.6 L1401.1,470.7 L1400.0,467.9 L1398.8,465.0 L1397.6,462.2 L1396.4,459.4 L1395.1,456.6 L1393.7,453.8 L1392.4,451.1 L1390.9,448.3 L1389.5,445.6 L1388.0,442.9 L1386.5,440.2 L1384.9,437.5 L1383.4,434.8 L1381.8,432.2 L1380.1,429.6 L1378.4,427.0 L1376.8,424.4 L1375.0,421.9 L1373.3,419.4 L1371.6,416.9 L1369.8,414.4 L1368.0,411.9 L1366.2,409.5 L1364.4,407.1 L1362.5,404.8 L1360.6,402.5 L1358.7,400.2 L1356.7,398.0 L1354.7,395.8 L1352.7,393.6 L1350.6,391.5 L1348.5,389.4 L1346.3,387.4 L1344.1,385.5 L1341.9,383.6 L1339.6,381.7 L1337.2,379.9 L1334.8,378.2 L1332.3,376.5 L1329.8,374.9 L1327.2,373.4 L1324.5,371.9 L1321.8,370.5 L1319.1,369.2 L1316.3,367.9 L1313.5,366.7 L1310.6,365.5 L1307.7,364.5 L1304.8,363.4 L1301.9,362.5 L1298.9,361.6 L1296.0,360.8 L1293.0,360.0 L1290.0,359.3 L1287.1,358.7 L1284.1,358.1 L1281.2,357.6"/>
<path d="M1453.0,431.7 L1450.4,430.0 L1447.9,428.4 L1445.3,426.7 L1442.7,425.0 L1440.1,423.4 L1437.5,421.8 L1434.9,420.1 L1432.3,418.5 L1429.7,416.9 L1427.0,415.3 L1424.4,413.7 L1421.7,412.2 L1419.1,410.6 L1416.4,409.1 L1413.7,407.5 L1411.0,406.0 L1408.3,404.5 L1405.6,403.0 L1402.9,401.6 L1400.2,400.1 L1397.5,398.7 L1394.8,397.3 L1392.0,395.9 L1389.3,394.5 L1386.5,393.1 L1383.7,391.8 L1380.9,390.4 L1378.1,389.1 L1375.3,387.8 L1372.5,386.6 L1369.7,385.3 L1366.9,384.1 L1364.1,382.9 L1361.2,381.8 L1358.4,380.6 L1355.5,379.5 L1352.6,378.4 L1349.8,377.3 L1346.9,376.3 L1344.0,375.3 L1341.1,374.3 L1338.2,373.3 L1335.3,372.4 L1332.3,371.5 L1329.4,370.6 L1326.4,369.7 L1323.5,368.9 L1320.5,368.1 L1317.5,367.4 L1314.6,366.7 L1311.6,366.0 L1308.6,365.3 L1305.5,364.7 L1302.5,364.1 L1299.5,363.6 L1296.5,363.0 L1293.4,362.6 L1290.4,362.1 L1287.3,361.7 L1284.2,361.3 L1281.1,361.0"/>
<path d="M1573.4,434.5 L1570.6,433.2 L1567.9,432.0 L1565.1,430.7 L1562.3,429.5 L1559.5,428.3 L1556.7,427.1 L1553.9,425.9 L1551.1,424.8 L1548.3,423.6 L1545.5,422.5 L1542.6,421.4 L1539.8,420.2 L1537.0,419.2 L1534.2,418.1 L1531.3,417.0 L1528.5,415.9 L1525.6,414.9 L1522.8,413.9 L1519.9,412.9 L1517.1,411.9 L1514.2,410.9 L1511.4,409.9 L1508.5,408.9 L1505.6,408.0 L1502.8,407.0 L1499.9,406.1 L1497.0,405.2 L1494.1,404.3 L1491.2,403.4 L1488.3,402.5 L1485.4,401.6 L1482.5,400.7 L1479.6,399.9 L1476.7,399.0 L1473.8,398.2 L1470.9,397.4 L1468.0,396.6 L1465.1,395.8 L1462.1,395.0 L1459.2,394.2 L1456.3,393.4 L1453.4,392.7 L1450.4,391.9 L1447.5,391.2 L1444.5,390.5 L1441.6,389.7 L1438.7,389.0 L1435.7,388.3 L1432.8,387.6 L1429.8,386.9 L1426.9,386.2 L1423.9,385.5 L1421.0,384.9 L1418.0,384.2 L1415.0,383.5 L1412.1,382.9 L1409.1,382.2 L1406.2,381.6 L1403.2,381.0 L1400.2,380.3 L1397.2,379.7 L1394.3,379.1 L1391.3,378.5 L1388.3,377.9 L1385.4,377.2 L1382.4,376.6 L1379.4,376.0 L1376.4,375.5 L1373.5,374.9 L1370.5,374.3 L1367.5,373.7 L1364.5,373.1 L1361.5,372.5 L1358.6,372.0 L1355.6,371.4 L1352.6,370.8 L1349.6,370.3 L1346.6,369.7 L1343.6,369.1 L1340.7,368.6 L1337.7,368.0 L1334.7,367.4 L1331.7,366.9 L1328.7,366.3 L1325.8,365.8 L1322.8,365.2 L1319.8,364.6 L1316.8,364.1 L1313.8,363.5 L1310.8,363.0 L1307.9,362.4 L1304.9,361.9 L1301.9,361.3 L1298.9,360.7 L1296.0,360.2 L1293.0,359.6 L1290.0,359.0 L1287.0,358.5 L1284.1,357.9 L1281.1,357.3"/>
<path d="M1609.6,432.3 L1607.6,429.9 L1605.6,427.5 L1603.5,425.2 L1601.4,422.9 L1599.3,420.7 L1597.1,418.5 L1594.9,416.4 L1592.7,414.3 L1590.4,412.3 L1588.0,410.3 L1585.7,408.4 L1583.3,406.6 L1580.9,404.8 L1578.4,403.1 L1575.9,401.4 L1573.3,399.8 L1570.8,398.3 L1568.1,396.9 L1565.5,395.5 L1562.8,394.2 L1560.1,392.9 L1557.4,391.7 L1554.6,390.6 L1551.8,389.5 L1549.0,388.4 L1546.1,387.4 L1543.3,386.5 L1540.4,385.6 L1537.5,384.7 L1534.5,383.9 L1531.6,383.1 L1528.7,382.3 L1525.7,381.6 L1522.7,380.9 L1519.7,380.2 L1516.8,379.6 L1513.8,378.9 L1510.8,378.3 L1507.8,377.7 L1504.8,377.1 L1501.8,376.6 L1498.8,376.0 L1495.8,375.5 L1492.8,374.9 L1489.8,374.4 L1486.8,373.9 L1483.8,373.4 L1480.8,372.9 L1477.8,372.5 L1474.7,372.0 L1471.7,371.6 L1468.7,371.1 L1465.7,370.7 L1462.7,370.3 L1459.7,369.9 L1456.7,369.5 L1453.6,369.1 L1450.6,368.7 L1447.6,368.4 L1444.6,368.0 L1441.6,367.7 L1438.5,367.3 L1435.5,367.0 L1432.5,366.7 L1429.5,366.3 L1426.5,366.0 L1423.4,365.7 L1420.4,365.4 L1417.4,365.1 L1414.4,364.8 L1411.3,364.5 L1408.3,364.3 L1405.3,364.0 L1402.2,363.7 L1399.2,363.4 L1396.2,363.2 L1393.2,362.9 L1390.1,362.7 L1387.1,362.4 L1384.1,362.2 L1381.0,361.9 L1378.0,361.7 L1375.0,361.4 L1372.0,361.2 L1368.9,360.9 L1365.9,360.7 L1362.9,360.4 L1359.8,360.2 L1356.8,359.9 L1353.8,359.7 L1350.7,359.5 L1347.7,359.2 L1344.7,359.0 L1341.7,358.7 L1338.6,358.5 L1335.6,358.2 L1332.6,358.0 L1329.5,357.7 L1326.5,357.4 L1323.5,357.2 L1320.5,356.9 L1317.4,356.6 L1314.4,356.4 L1311.4,356.1 L1308.4,355.8 L1305.3,355.5 L1302.3,355.2 L1299.3,354.9 L1296.3,354.6 L1293.3,354.3 L1290.2,354.0 L1287.2,353.6 L1284.2,353.3 L1281.2,352.9"/>
<path d="M60.7,650.8 L58.8,648.8 L56.9,646.8 L54.9,644.8 L52.9,642.8 L50.8,640.7 L48.7,638.6 L46.5,636.5 L44.4,634.3 L42.2,632.2 L40.1,630.0 L37.9,627.7 L35.7,625.5 L33.6,623.2 L31.5,620.8 L29.4,618.5 L27.4,616.0 L25.4,613.6 L23.4,611.1 L21.5,608.6 L19.7,606.0 L18.0,603.4 L16.4,600.7 L14.8,598.0 L13.3,595.3 L12.0,592.5 L10.8,589.6 L9.6,586.7 L8.6,583.8 L7.8,580.9 L7.0,577.9 L6.5,574.9 L6.0,571.9 L5.7,568.9 L5.6,565.9 L5.6,562.9 L5.8,559.9 L6.2,557.0 L6.8,554.1 L7.5,551.2 L8.4,548.4 L9.5,545.6 L10.7,542.9 L12.1,540.3 L13.6,537.8 L15.3,535.4 L17.1,533.0 L19.1,530.8 L21.1,528.7 L23.3,526.6 L25.6,524.7 L28.0,522.9 L30.4,521.3 L33.0,519.7 L35.6,518.3 L38.2,517.0 L41.0,515.8 L43.7,514.6 L46.5,513.6 L49.4,512.7 L52.3,511.8 L55.2,511.0 L58.2,510.2 L61.2,509.5 L64.1,508.8 L67.1,508.1 L70.1,507.5 L73.1,506.9 L76.1,506.2 L79.1,505.6 L82.1,505.0 L85.1,504.4 L88.1,503.9 L91.1,503.3 L94.1,502.7 L97.1,502.2 L100.1,501.6 L103.1,501.1 L106.1,500.6 L109.1,500.1 L112.1,499.6 L115.1,499.1 L118.1,498.6 L121.1,498.1 L124.1,497.7 L127.1,497.2 L130.1,496.8 L133.1,496.3 L136.1,495.9 L139.1,495.5 L142.1,495.1 L145.1,494.7 L148.1,494.3 L151.1,493.9 L154.1,493.5 L157.1,493.1 L160.1,492.7 L163.1,492.4 L166.1,492.0 L169.1,491.7 L172.1,491.3 L175.0,491.0 L178.0,490.7 L181.0,490.3 L184.0,490.0 L187.0,489.7 L190.0,489.4 L193.0,489.1 L196.0,488.8 L199.0,488.5 L202.0,488.2 L205.0,488.0 L208.0,487.7 L211.0,487.4 L214.0,487.1 L217.0,486.9 L220.0,486.6 L223.0,486.4 L226.0,486.1 L229.0,485.9 L232.0,485.6 L235.0,485.4 L238.0,485.1 L241.0,484.9 L244.0,484.7 L247.0,484.5 L250.0,484.2 L253.0,484.0 L256.0,483.8 L259.0,483.6 L262.0,483.4 L265.0,483.1 L268.0,482.9 L271.1,482.7 L274.1,482.5 L277.1,482.3 L280.1,482.1 L283.1,481.9 L286.1,481.7 L289.1,481.5 L292.1,481.3 L295.1,481.1 L298.1,480.9 L301.1,480.7 L304.1,480.5 L307.2,480.3 L310.2,480.1 L313.2,479.9 L316.2,479.7 L319.2,479.5 L322.2,479.3 L325.2,479.1 L328.3,478.9 L331.3,478.7 L334.3,478.5 L337.3,478.3 L340.3,478.1 L343.3,477.9 L346.4,477.8 L349.4,477.6 L352.4,477.4 L355.4,477.2 L358.4,477.0 L361.4,476.8 L364.5,476.6 L367.5,476.4 L370.5,476.2 L373.5,476.0 L376.5,475.9 L379.6,475.7 L382.6,475.5 L385.6,475.3 L388.6,475.1 L391.6,474.9 L394.7,474.7 L397.7,474.6 L400.7,474.4 L403.7,474.2 L406.8,474.0 L409.8,473.8 L412.8,473.6 L415.8,473.5 L418.8,473.3 L421.9,473.1 L424.9,472.9 L427.9,472.7 L430.9,472.5 L433.9,472.4 L437.0,472.2 L440.0,472.0 L443.0,471.8 L446.0,471.6 L449.1,471.4 L452.1,471.3 L455.1,471.1 L458.1,470.9 L461.1,470.7 L464.2,470.5 L467.2,470.3 L470.2,470.2 L473.2,470.0 L476.2,469.8 L479.3,469.6 L482.3,469.4 L485.3,469.3 L488.3,469.1 L491.3,468.9 L494.4,468.7 L497.4,468.5 L500.4,468.3 L503.4,468.2 L506.4,468.0 L509.4,467.8 L512.5,467.6 L515.5,467.4 L518.5,467.2 L521.5,467.1 L524.5,466.9 L527.5,466.7 L530.6,466.5 L533.6,466.3 L536.6,466.1 L539.6,466.0 L542.6,465.8 L545.6,465.6 L548.6,465.4 L551.6,465.2 L554.7,465.0 L557.7,464.8 L560.7,464.7 L563.7,464.5 L566.7,464.3 L569.7,464.1 L572.7,463.9 L575.7,463.7"/>
<path d="M87.7,650.8 L87.5,647.9 L87.3,644.9 L87.2,642.0 L87.1,639.0 L87.1,636.0 L87.1,633.0 L87.1,630.0 L87.2,626.9 L87.3,623.9 L87.5,620.9 L87.7,617.8 L88.0,614.8 L88.3,611.7 L88.6,608.6 L89.0,605.6 L89.5,602.5 L90.0,599.5 L90.6,596.5 L91.2,593.4 L91.9,590.4 L92.6,587.4 L93.4,584.4 L94.3,581.4 L95.2,578.5 L96.2,575.5 L97.3,572.6 L98.4,569.7 L99.6,566.8 L100.9,564.0 L102.2,561.2 L103.6,558.5 L105.1,555.9 L106.7,553.3 L108.4,550.9 L110.2,548.5 L112.0,546.2 L114.0,544.0 L116.0,541.9 L118.2,540.0 L120.5,538.1 L122.8,536.4 L125.3,534.9 L127.8,533.4 L130.5,532.0 L133.2,530.7 L135.9,529.6 L138.7,528.5 L141.6,527.4 L144.5,526.5 L147.5,525.6 L150.4,524.7 L153.4,523.9 L156.4,523.1 L159.4,522.3 L162.4,521.5 L165.4,520.8 L168.4,520.1 L171.4,519.4 L174.4,518.7 L177.3,518.0 L180.3,517.3 L183.3,516.6 L186.2,516.0 L189.2,515.3 L192.2,514.7 L195.1,514.1 L198.1,513.5 L201.1,512.9 L204.0,512.3 L207.0,511.7 L209.9,511.1 L212.9,510.5 L215.9,509.9 L218.8,509.3 L221.8,508.8 L224.8,508.2 L227.7,507.6 L230.7,507.1 L233.7,506.5 L236.6,506.0 L239.6,505.4 L242.6,504.9 L245.6,504.4 L248.5,503.8 L251.5,503.3 L254.5,502.8 L257.5,502.3 L260.4,501.8 L263.4,501.3 L266.4,500.7 L269.4,500.2 L272.4,499.8 L275.3,499.3 L278.3,498.8 L281.3,498.3 L284.3,497.8 L287.3,497.3 L290.3,496.9 L293.2,496.4 L296.2,495.9 L299.2,495.5 L302.2,495.0 L305.2,494.6 L308.2,494.1 L311.2,493.7 L314.2,493.2 L317.1,492.8 L320.1,492.4 L323.1,491.9 L326.1,491.5 L329.1,491.1 L332.1,490.7 L335.1,490.3 L338.1,489.8 L341.1,489.4 L344.1,489.0 L347.1,488.6 L350.1,488.2 L353.1,487.8 L356.1,487.4 L359.1,487.0 L362.1,486.7 L365.1,486.3 L368.1,485.9 L371.1,485.5 L374.1,485.1 L377.1,484.8 L380.1,484.4 L383.1,484.0 L386.1,483.7 L389.1,483.3 L392.1,482.9 L395.1,482.6 L398.1,482.2 L401.1,481.9 L404.1,481.5 L407.1,481.2 L410.1,480.9 L413.1,480.5 L416.2,480.2 L419.2,479.8 L422.2,479.5 L425.2,479.2 L428.2,478.9 L431.2,478.5 L434.2,478.2 L437.2,477.9 L440.2,477.6 L443.2,477.3 L446.2,476.9 L449.2,476.6 L452.3,476.3 L455.3,476.0 L458.3,475.7 L461.3,475.4 L464.3,475.1 L467.3,474.8 L470.3,474.5 L473.3,474.2 L476.3,473.9 L479.4,473.6 L482.4,473.3 L485.4,473.0 L488.4,472.7 L491.4,472.5 L494.4,472.2 L497.4,471.9 L500.4,471.6 L503.4,471.3 L506.5,471.0 L509.5,470.8 L512.5,470.5 L515.5,470.2 L518.5,469.9 L521.5,469.7 L524.5,469.4 L527.5,469.1 L530.6,468.9 L533.6,468.6 L536.6,468.3 L539.6,468.1 L542.6,467.8 L545.6,467.5 L548.6,467.3 L551.6,467.0 L554.6,466.7 L557.7,466.5 L560.7,466.2 L563.7,466.0 L566.7,465.7 L569.7,465.5 L572.7,465.2 L575.7,464.9"/>
<path d="M235.0,541.5 L237.2,539.4 L239.5,537.3 L241.7,535.3 L244.1,533.3 L246.4,531.3 L248.8,529.4 L251.2,527.6 L253.7,525.8 L256.1,524.0 L258.7,522.3 L261.2,520.7 L263.8,519.1 L266.3,517.5 L269.0,516.0 L271.6,514.5 L274.3,513.1 L276.9,511.7 L279.6,510.3 L282.4,509.0 L285.1,507.8 L287.9,506.6 L290.7,505.4 L293.5,504.3 L296.3,503.2 L299.1,502.1 L302.0,501.1 L304.9,500.2 L307.7,499.2 L310.6,498.3 L313.6,497.5 L316.5,496.7 L319.4,495.9 L322.3,495.1 L325.3,494.4 L328.2,493.7 L331.2,493.0 L334.2,492.3 L337.2,491.7 L340.1,491.1 L343.1,490.5 L346.1,489.9 L349.1,489.3 L352.1,488.7 L355.1,488.2 L358.1,487.7 L361.1,487.1 L364.1,486.6 L367.1,486.1 L370.1,485.6 L373.1,485.1 L376.1,484.6 L379.1,484.2 L382.1,483.7 L385.1,483.2 L388.2,482.8 L391.2,482.4 L394.2,481.9 L397.2,481.5 L400.2,481.1 L403.2,480.7 L406.2,480.3 L409.2,479.9 L412.3,479.5 L415.3,479.1 L418.3,478.8 L421.3,478.4 L424.3,478.0 L427.3,477.7 L430.4,477.4 L433.4,477.0 L436.4,476.7 L439.4,476.4 L442.4,476.0 L445.5,475.7 L448.5,475.4 L451.5,475.1 L454.5,474.8 L457.5,474.5 L460.6,474.3 L463.6,474.0 L466.6,473.7 L469.6,473.4 L472.7,473.2 L475.7,472.9 L478.7,472.7 L481.8,472.4 L484.8,472.2 L487.8,471.9 L490.8,471.7 L493.9,471.4 L496.9,471.2 L499.9,471.0 L503.0,470.8 L506.0,470.5 L509.0,470.3 L512.0,470.1 L515.1,469.9 L518.1,469.7 L521.1,469.5 L524.2,469.3 L527.2,469.0 L530.2,468.8 L533.3,468.6 L536.3,468.4 L539.3,468.2 L542.4,468.0 L545.4,467.9 L548.4,467.7 L551.5,467.5 L554.5,467.3 L557.5,467.1 L560.6,466.9 L563.6,466.7 L566.6,466.5 L569.7,466.3 L572.7,466.1 L575.7,465.9"/>
<path d="M255.5,650.8 L257.4,648.4 L259.2,645.9 L261.1,643.5 L263.0,641.1 L265.0,638.7 L266.9,636.3 L268.8,634.0 L270.8,631.7 L272.8,629.3 L274.8,627.0 L276.8,624.7 L278.9,622.5 L280.9,620.2 L283.0,618.0 L285.1,615.7 L287.2,613.5 L289.3,611.4 L291.4,609.2 L293.6,607.0 L295.7,604.9 L297.9,602.7 L300.1,600.6 L302.3,598.5 L304.5,596.5 L306.7,594.4 L309.0,592.4 L311.2,590.3 L313.5,588.3 L315.8,586.3 L318.1,584.3 L320.4,582.4 L322.7,580.4 L325.1,578.5 L327.4,576.6 L329.8,574.7 L332.1,572.8 L334.5,570.9 L336.9,569.1 L339.3,567.2 L341.8,565.4 L344.2,563.6 L346.7,561.8 L349.1,560.0 L351.6,558.3 L354.1,556.5 L356.6,554.8 L359.1,553.1 L361.6,551.4 L364.1,549.7 L366.7,548.1 L369.2,546.4 L371.8,544.8 L374.3,543.2 L376.9,541.6 L379.5,540.0 L382.1,538.4 L384.7,536.9 L387.4,535.3 L390.0,533.8 L392.6,532.3 L395.3,530.8 L397.9,529.4 L400.6,527.9 L403.3,526.5 L406.0,525.0 L408.7,523.6 L411.4,522.2 L414.1,520.9 L416.8,519.5 L419.5,518.1 L422.3,516.8 L425.0,515.5 L427.8,514.2 L430.5,512.9 L433.3,511.7 L436.1,510.4 L438.9,509.2 L441.7,507.9 L444.5,506.7 L447.3,505.6 L450.1,504.4 L452.9,503.2 L455.7,502.1 L458.6,501.0 L461.4,499.8 L464.3,498.8 L467.1,497.7 L470.0,496.6 L472.8,495.6 L475.7,494.5 L478.6,493.5 L481.5,492.5 L484.3,491.5 L487.2,490.6 L490.1,489.6 L493.0,488.7 L495.9,487.7 L498.8,486.8 L501.8,485.9 L504.7,485.1 L507.6,484.2 L510.5,483.4 L513.5,482.5 L516.4,481.7 L519.3,480.9 L522.3,480.1 L525.2,479.4 L528.2,478.6 L531.1,477.9 L534.1,477.2 L537.1,476.4 L540.0,475.8 L543.0,475.1 L546.0,474.4 L548.9,473.8 L551.9,473.1 L554.9,472.5 L557.9,471.9 L560.8,471.3 L563.8,470.8 L566.8,470.2 L569.8,469.7 L572.8,469.2 L575.8,468.7"/>
<path d="M382.6,650.8 L383.5,647.8 L384.4,644.9 L385.3,641.9 L386.3,639.0 L387.3,636.1 L388.3,633.2 L389.4,630.3 L390.5,627.5 L391.7,624.6 L392.9,621.8 L394.1,619.0 L395.4,616.2 L396.6,613.4 L398.0,610.6 L399.3,607.9 L400.7,605.2 L402.2,602.5 L403.6,599.8 L405.1,597.1 L406.6,594.5 L408.2,591.8 L409.8,589.2 L411.4,586.7 L413.1,584.1 L414.8,581.6 L416.5,579.1 L418.3,576.6 L420.1,574.1 L421.9,571.7 L423.7,569.3 L425.6,566.9 L427.5,564.5 L429.5,562.2 L431.5,559.9 L433.5,557.6 L435.5,555.3 L437.6,553.1 L439.7,550.9 L441.8,548.7 L444.0,546.6 L446.2,544.4 L448.4,542.4 L450.7,540.3 L453.0,538.3 L455.3,536.3 L457.6,534.3 L459.9,532.3 L462.3,530.4 L464.7,528.5 L467.1,526.6 L469.6,524.8 L472.1,522.9 L474.5,521.2 L477.1,519.4 L479.6,517.6 L482.1,515.9 L484.7,514.2 L487.3,512.5 L489.9,510.9 L492.5,509.3 L495.1,507.7 L497.8,506.1 L500.4,504.5 L503.1,503.0 L505.8,501.5 L508.5,500.0 L511.2,498.5 L514.0,497.1 L516.7,495.7 L519.4,494.3 L522.2,492.9 L525.0,491.6 L527.7,490.2 L530.5,488.9 L533.3,487.7 L536.1,486.4 L538.9,485.2 L541.8,484.0 L544.6,482.8 L547.4,481.7 L550.2,480.5 L553.1,479.4 L555.9,478.4 L558.8,477.3 L561.6,476.3 L564.5,475.3 L567.4,474.3 L570.2,473.4 L573.1,472.5 L575.9,471.6"/>
<path d="M482.7,650.8 L482.3,648.0 L482.0,645.1 L481.6,642.2 L481.2,639.3 L480.9,636.3 L480.5,633.3 L480.2,630.2 L479.8,627.2 L479.5,624.1 L479.2,621.0 L479.0,617.8 L478.7,614.7 L478.5,611.5 L478.4,608.3 L478.2,605.2 L478.1,602.0 L478.1,598.8 L478.1,595.6 L478.2,592.5 L478.3,589.3 L478.5,586.2 L478.7,583.1 L479.0,580.0 L479.4,576.9 L479.9,573.8 L480.4,570.8 L481.0,567.8 L481.7,564.9 L482.5,561.9 L483.4,559.1 L484.4,556.2 L485.5,553.5 L486.6,550.7 L487.9,548.1 L489.3,545.4 L490.9,542.9 L492.5,540.4 L494.2,537.9 L496.0,535.5 L497.9,533.2 L499.9,530.9 L501.9,528.7 L504.0,526.5 L506.2,524.3 L508.5,522.2 L510.8,520.1 L513.2,518.1 L515.6,516.1 L518.0,514.1 L520.5,512.2 L523.0,510.3 L525.6,508.4 L528.2,506.6 L530.7,504.8 L533.4,503.0 L536.0,501.3 L538.6,499.6 L541.3,497.9 L543.9,496.3 L546.6,494.7 L549.3,493.1 L552.0,491.6 L554.7,490.1 L557.4,488.7 L560.1,487.3 L562.8,485.9 L565.5,484.6 L568.1,483.3 L570.8,482.0 L573.5,480.8 L576.1,479.7"/>
<path d="M506.1,650.8 C518.4,634.8 559.8,582.4 580.0,555.0 C600.2,527.6 619.5,498.0 627.3,486.6"/>
<path d="M693.9,541.5 L663.0,486.9"/>
<path d="M831.0,760.5 L831.1,757.4 L831.1,754.4 L831.1,751.3 L831.1,748.2 L831.0,745.2 L831.0,742.1 L830.9,739.1 L830.8,736.0 L830.7,733.0 L830.5,729.9 L830.4,726.9 L830.2,723.9 L830.0,720.8 L829.7,717.8 L829.5,714.8 L829.2,711.7 L828.9,708.7 L828.6,705.7 L828.3,702.7 L827.9,699.7 L827.6,696.7 L827.2,693.7 L826.8,690.7 L826.4,687.7 L826.0,684.7 L825.5,681.7 L825.0,678.7 L824.6,675.7 L824.1,672.7 L823.5,669.7 L823.0,666.7 L822.5,663.7 L821.9,660.7 L821.3,657.8 L820.8,654.8 L820.1,651.8 L819.5,648.8 L818.9,645.9 L818.3,642.9 L817.6,639.9 L816.9,636.9 L816.3,634.0 L815.6,631.0 L814.9,628.0 L814.1,625.1 L813.4,622.1 L812.7,619.1 L811.9,616.2 L811.2,613.2 L810.4,610.3 L809.6,607.3 L808.8,604.3 L808.0,601.4 L807.2,598.4 L806.4,595.5 L805.6,592.5 L804.7,589.6 L803.8,586.6 L803.0,583.7 L802.0,580.8 L801.1,577.9 L800.1,575.0 L799.1,572.1 L798.1,569.2 L797.0,566.4 L795.9,563.6 L794.8,560.7 L793.6,558.0 L792.3,555.2 L791.0,552.5 L789.7,549.8 L788.3,547.1 L786.8,544.5 L785.3,541.9 L783.7,539.3 L782.1,536.8 L780.4,534.3 L778.7,531.8 L776.9,529.4 L775.0,527.0 L773.1,524.7 L771.1,522.4 L769.1,520.1 L767.1,517.9 L765.0,515.7 L762.8,513.6 L760.6,511.5 L758.3,509.4 L756.0,507.4 L753.7,505.5 L751.3,503.6 L748.9,501.7 L746.4,499.9 L743.9,498.2 L741.4,496.5 L738.8,494.8 L736.2,493.3 L733.5,491.7 L730.8,490.2 L728.1,488.8 L725.3,487.4 L722.5,486.1"/>
<path d="M886.7,541.7 L884.4,539.6 L882.1,537.5 L879.8,535.5 L877.4,533.6 L875.1,531.6 L872.7,529.7 L870.2,527.8 L867.8,526.0 L865.3,524.2 L862.8,522.5 L860.3,520.7 L857.8,519.0 L855.2,517.4 L852.6,515.8 L850.0,514.2 L847.4,512.6 L844.8,511.1 L842.1,509.6 L839.4,508.2 L836.7,506.7 L834.0,505.3 L831.3,504.0 L828.5,502.7 L825.8,501.4 L823.0,500.1 L820.2,498.8 L817.4,497.6 L814.6,496.4 L811.8,495.3 L808.9,494.1 L806.1,493.0 L803.2,492.0 L800.3,490.9 L797.5,489.9 L794.6,488.9 L791.7,487.9 L788.7,487.0 L785.8,486.0 L782.9,485.1 L779.9,484.3 L777.0,483.4 L774.0,482.6 L771.1,481.8 L768.1,481.0 L765.2,480.2 L762.2,479.5 L759.2,478.7 L756.2,478.0 L753.2,477.3 L750.2,476.7 L747.3,476.0 L744.3,475.4 L741.3,474.8 L738.3,474.2 L735.3,473.6 L732.3,473.0 L729.3,472.5 L726.3,472.0 L723.3,471.5"/>
<path d="M1044.9,651.0 L1044.4,647.9 L1043.9,644.9 L1043.3,641.9 L1042.6,638.9 L1042.0,635.9 L1041.2,633.0 L1040.4,630.0 L1039.6,627.1 L1038.7,624.2 L1037.8,621.4 L1036.9,618.5 L1035.9,615.7 L1034.8,612.8 L1033.8,610.0 L1032.7,607.2 L1031.6,604.4 L1030.4,601.6 L1029.2,598.8 L1028.0,596.0 L1026.8,593.3 L1025.5,590.5 L1024.2,587.7 L1022.9,584.9 L1021.6,582.1 L1020.2,579.3 L1018.8,576.5 L1017.4,573.7 L1016.0,570.9 L1014.5,568.1 L1013.0,565.4 L1011.4,562.8 L1009.7,560.2 L1007.9,557.7 L1006.0,555.4 L1004.0,553.1 L1002.0,550.9 L999.8,548.8 L997.6,546.9 L995.2,545.1 L992.8,543.4 L990.2,541.8 L987.6,540.4 L984.9,539.0 L982.2,537.8 L979.4,536.6 L976.6,535.5 L973.7,534.4 L970.9,533.3 L968.1,532.2 L965.2,531.1 L962.4,530.1 L959.5,529.1 L956.6,528.1 L953.8,527.1 L950.9,526.1 L948.0,525.1 L945.1,524.2 L942.2,523.2 L939.3,522.3 L936.4,521.4 L933.5,520.5 L930.6,519.6 L927.7,518.8 L924.8,517.9 L921.9,517.1 L918.9,516.2 L916.0,515.4 L913.1,514.6 L910.1,513.8 L907.2,513.0 L904.2,512.2 L901.3,511.4 L898.3,510.6 L895.4,509.9 L892.4,509.1 L889.5,508.4 L886.5,507.6 L883.6,506.9 L880.6,506.2 L877.6,505.4 L874.7,504.7 L871.7,504.0 L868.7,503.3 L865.8,502.6 L862.8,501.8 L859.8,501.1 L856.9,500.4 L853.9,499.7 L850.9,499.0 L848.0,498.3 L845.0,497.6 L842.0,496.9 L839.1,496.2 L836.1,495.5 L833.1,494.8 L830.2,494.1 L827.2,493.4 L824.2,492.6 L821.3,491.9 L818.3,491.2 L815.4,490.5 L812.4,489.7 L809.5,489.0 L806.5,488.3 L803.6,487.5 L800.6,486.8 L797.7,486.0 L794.8,485.2 L791.8,484.5 L788.9,483.7 L786.0,482.9 L783.1,482.2 L780.1,481.4 L777.2,480.6 L774.3,479.9 L771.3,479.2 L768.4,478.4 L765.4,477.7 L762.5,477.0 L759.5,476.3 L756.6,475.7 L753.6,475.0 L750.6,474.4 L747.7,473.8 L744.7,473.3 L741.7,472.8 L738.7,472.3 L735.6,471.8 L732.6,471.4 L729.6,471.0 L726.5,470.6 L723.4,470.3"/>
<path d="M1053.2,545.9 L1050.3,545.1 L1047.4,544.2 L1044.5,543.4 L1041.6,542.5 L1038.7,541.6 L1035.8,540.8 L1032.9,539.9 L1030.0,539.0 L1027.1,538.1 L1024.2,537.2 L1021.3,536.2 L1018.4,535.3 L1015.5,534.4 L1012.6,533.4 L1009.8,532.5 L1006.9,531.6 L1004.0,530.6 L1001.1,529.7 L998.2,528.7 L995.4,527.8 L992.5,526.8 L989.6,525.8 L986.7,524.9 L983.9,523.9 L981.0,523.0 L978.1,522.0 L975.2,521.1 L972.3,520.1 L969.5,519.2 L966.6,518.3 L963.7,517.3 L960.8,516.4 L957.9,515.5 L955.0,514.6 L952.2,513.7 L949.3,512.8 L946.4,511.9 L943.5,511.0 L940.6,510.1 L937.7,509.2 L934.8,508.4 L931.9,507.5 L929.0,506.7 L926.1,505.8 L923.2,505.0 L920.2,504.2 L917.3,503.4 L914.4,502.6 L911.5,501.8 L908.6,501.1 L905.6,500.3 L902.7,499.6 L899.8,498.8 L896.8,498.1 L893.9,497.4 L890.9,496.7 L888.0,496.0 L885.0,495.3 L882.1,494.7 L879.1,494.0 L876.2,493.4 L873.2,492.7 L870.3,492.1 L867.3,491.5 L864.3,490.9 L861.3,490.3 L858.4,489.7 L855.4,489.1 L852.4,488.6 L849.4,488.0 L846.5,487.5 L843.5,486.9 L840.5,486.4 L837.5,485.9 L834.5,485.3 L831.5,484.8 L828.5,484.3 L825.5,483.8 L822.5,483.3 L819.5,482.9 L816.5,482.4 L813.5,481.9 L810.6,481.4 L807.5,481.0 L804.5,480.5 L801.5,480.0 L798.5,479.6 L795.5,479.1 L792.5,478.7 L789.5,478.3 L786.5,477.8 L783.5,477.4 L780.5,477.0 L777.5,476.5 L774.5,476.1 L771.5,475.7 L768.5,475.3 L765.5,474.8 L762.5,474.4 L759.5,474.0 L756.5,473.6 L753.5,473.2 L750.5,472.8 L747.5,472.4 L744.5,471.9 L741.5,471.5 L738.5,471.1 L735.5,470.7 L732.5,470.3 L729.5,469.9 L726.5,469.5 L723.5,469.0"/>
<path d="M1190.0,545.1 L1187.0,544.5 L1184.0,543.9 L1181.1,543.3 L1178.1,542.7 L1175.1,542.2 L1172.1,541.6 L1169.2,541.0 L1166.2,540.4 L1163.2,539.9 L1160.2,539.3 L1157.2,538.7 L1154.3,538.2 L1151.3,537.6 L1148.3,537.1 L1145.3,536.5 L1142.3,536.0 L1139.3,535.4 L1136.4,534.9 L1133.4,534.3 L1130.4,533.8 L1127.4,533.3 L1124.4,532.7 L1121.4,532.2 L1118.5,531.7 L1115.5,531.2 L1112.5,530.6 L1109.5,530.1 L1106.5,529.6 L1103.5,529.1 L1100.5,528.6 L1097.5,528.1 L1094.5,527.6 L1091.6,527.0 L1088.6,526.5 L1085.6,526.0 L1082.6,525.5 L1079.6,525.0 L1076.6,524.5 L1073.6,524.0 L1070.6,523.5 L1067.6,523.0 L1064.6,522.6 L1061.6,522.1 L1058.7,521.6 L1055.7,521.1 L1052.7,520.6 L1049.7,520.1 L1046.7,519.6 L1043.7,519.1 L1040.7,518.7 L1037.7,518.2 L1034.7,517.7 L1031.7,517.2 L1028.7,516.7 L1025.7,516.3 L1022.7,515.8 L1019.7,515.3 L1016.7,514.8 L1013.7,514.3 L1010.8,513.9 L1007.8,513.4 L1004.8,512.9 L1001.8,512.4 L998.8,512.0 L995.8,511.5 L992.8,511.0 L989.8,510.5 L986.8,510.1 L983.8,509.6 L980.8,509.1 L977.8,508.6 L974.8,508.2 L971.8,507.7 L968.8,507.2 L965.8,506.7 L962.8,506.3 L959.8,505.8 L956.8,505.3 L953.8,504.8 L950.8,504.4 L947.9,503.9 L944.9,503.4 L941.9,502.9 L938.9,502.4 L935.9,502.0 L932.9,501.5 L929.9,501.0 L926.9,500.5 L923.9,500.0 L920.9,499.5 L917.9,499.0 L914.9,498.6 L911.9,498.1 L908.9,497.6 L905.9,497.1 L902.9,496.6 L900.0,496.1 L897.0,495.6 L894.0,495.1 L891.0,494.6 L888.0,494.1 L885.0,493.6 L882.0,493.2 L879.0,492.7 L876.0,492.2 L873.0,491.7 L870.0,491.2 L867.0,490.7 L864.0,490.2 L861.0,489.7 L858.1,489.2 L855.1,488.7 L852.1,488.2 L849.1,487.8 L846.1,487.3 L843.1,486.8 L840.1,486.3 L837.1,485.8 L834.1,485.3 L831.1,484.8 L828.1,484.3 L825.1,483.9 L822.1,483.4 L819.1,482.9 L816.1,482.4 L813.1,481.9 L810.1,481.5 L807.1,481.0 L804.2,480.5 L801.2,480.0 L798.2,479.6 L795.2,479.1 L792.2,478.6 L789.2,478.2 L786.2,477.7 L783.2,477.2 L780.2,476.8 L777.2,476.3 L774.2,475.9 L771.2,475.4 L768.2,475.0 L765.2,474.5 L762.2,474.1 L759.2,473.6 L756.2,473.2 L753.2,472.7 L750.2,472.3 L747.2,471.8 L744.2,471.4 L741.2,471.0 L738.2,470.6 L735.2,470.1 L732.2,469.7 L729.2,469.3 L726.2,468.9 L723.2,468.4 L720.2,468.0 L717.1,467.6"/>
<path d="M117.1,650.8 L177.1,598.6"/>
<path d="M232.5,650.8 L221.2,602.8"/>
<path d="M341.1,650.8 C334.2,646.5 313.9,634.1 300.0,625.2 C286.1,616.3 264.9,601.9 257.8,597.3"/>
<path d="M451.8,655.0 C424.8,644.7 318.7,604.2 290.0,593.3 C261.3,582.4 281.3,590.4 279.5,589.9"/>
<path d="M915.0,651.1 C914.2,646.0 911.0,628.8 910.3,620.8 C909.6,612.8 910.8,606.2 910.9,603.3"/>
<path d="M995.2,655.4 L992.4,654.0 L989.6,652.7 L986.8,651.4 L983.9,650.1 L980.9,648.8 L978.0,647.5 L975.0,646.3 L972.0,645.0 L969.0,643.7 L966.0,642.4 L963.1,641.0 L960.2,639.6 L957.3,638.2 L954.5,636.7 L951.7,635.1 L949.0,633.5 L946.3,631.8 L943.8,630.0 L941.3,628.2 L939.0,626.2 L936.7,624.1 L934.6,621.9 L932.6,619.6 L930.7,617.2 L928.9,614.6 L927.3,611.9 L925.9,609.1 L924.6,606.2 L923.5,603.1 L922.6,599.8 L921.8,596.5"/>
<path d="M838.1,760.5 L839.3,757.5 L840.5,754.5 L841.8,751.6 L843.2,748.7 L844.6,745.8 L846.1,743.0 L847.7,740.2 L849.4,737.5 L851.1,734.7 L852.9,732.1 L854.8,729.5 L856.7,726.9 L858.7,724.4 L860.7,721.9 L862.8,719.5 L864.9,717.1 L867.1,714.7 L869.4,712.5 L871.7,710.2 L874.0,708.1 L876.4,705.9 L878.9,703.9"/>
<path d="M1059.7,873.3 L1056.6,872.6 L1053.6,871.8 L1050.6,871.0 L1047.6,870.1 L1044.6,869.1 L1041.6,868.2 L1038.7,867.1 L1035.8,866.0 L1032.9,864.9 L1030.0,863.7 L1027.2,862.4 L1024.3,861.1 L1021.5,859.8 L1018.8,858.4 L1016.0,857.0 L1013.3,855.5 L1010.6,854.0 L1007.9,852.4 L1005.3,850.8 L1002.7,849.1 L1000.1,847.4 L997.6,845.6 L995.1,843.8 L992.6,842.0 L990.2,840.1 L987.8,838.2 L985.4,836.2 L983.1,834.2 L980.8,832.1 L978.5,830.1 L976.3,827.9 L974.1,825.8 L972.0,823.6 L969.9,821.3 L967.8,819.0 L965.8,816.7 L963.8,814.4 L961.9,812.0 L960.0,809.6 L958.2,807.1 L956.4,804.7 L954.7,802.1 L953.0,799.6 L951.3,797.0 L949.7,794.4 L948.2,791.8 L946.7,789.1 L945.2,786.4 L943.8,783.6 L942.5,780.9 L941.2,778.1 L939.9,775.3 L938.8,772.4 L937.6,769.6 L936.6,766.7 L935.5,763.8 L934.6,760.8 L933.7,757.9 L932.8,754.9 L932.1,751.8 L931.3,748.8 L930.7,745.8 L930.1,742.7 L929.5,739.6 L928.9,736.5 L928.3,733.5 L927.8,730.4 L927.2,727.3 L926.6,724.3 L926.0,721.3 L925.3,718.3 L924.6,715.4 L923.8,712.5"/>
<path d="M1015.1,760.5 L955.3,708.1"/>
<path d="M1131.4,760.5 L983.8,701.7"/>
<path d="M1230.9,984.2 L1233.6,982.8 L1236.2,981.3 L1238.7,979.7 L1241.3,978.1 L1243.7,976.4 L1246.2,974.7 L1248.6,972.9 L1251.0,971.1 L1253.4,969.2 L1255.7,967.3 L1258.1,965.3 L1260.4,963.3 L1262.6,961.3 L1264.9,959.2 L1267.2,957.2 L1269.4,955.1 L1271.6,953.0 L1273.9,950.9 L1276.1,948.8 L1278.3,946.7 L1280.5,944.6 L1282.7,942.5 L1284.9,940.3 L1287.0,938.2 L1289.1,936.0 L1291.1,933.7 L1293.1,931.5 L1295.0,929.2 L1296.8,926.8 L1298.5,924.4 L1300.2,921.9 L1301.7,919.3 L1303.2,916.7 L1304.5,914.1 L1305.7,911.3 L1306.9,908.6 L1307.9,905.7 L1308.9,902.8 L1309.8,899.9 L1310.6,897.0 L1311.3,894.0 L1311.9,891.0 L1312.4,887.9 L1312.8,884.9 L1313.2,881.8 L1313.5,878.7 L1313.7,875.6 L1313.8,872.5 L1313.9,869.4 L1313.9,866.3 L1313.8,863.3 L1313.6,860.2 L1313.4,857.1 L1313.1,854.0 L1312.7,851.0 L1312.2,848.0 L1311.6,845.0 L1311.0,842.0 L1310.2,839.0 L1309.4,836.1 L1308.5,833.3 L1307.5,830.4 L1306.4,827.6 L1305.2,824.8 L1304.0,822.1 L1302.6,819.5 L1301.2,816.8 L1299.7,814.2 L1298.1,811.7 L1296.5,809.1 L1294.9,806.6 L1293.2,804.1 L1291.5,801.6 L1289.7,799.1 L1288.0,796.6 L1286.2,794.1 L1284.5,791.5 L1282.8,789.0 L1281.1,786.5 L1279.4,783.9 L1277.6,781.4 L1275.9,778.9 L1274.2,776.3 L1272.5,773.8 L1270.7,771.3 L1268.9,768.8 L1267.2,766.4 L1265.4,763.9 L1263.5,761.5 L1261.6,759.1 L1259.7,756.8 L1257.8,754.5 L1255.8,752.2 L1253.8,750.0 L1251.7,747.8 L1249.6,745.7 L1247.4,743.6 L1245.2,741.6 L1242.9,739.6 L1240.6,737.7 L1238.2,735.9 L1235.7,734.1 L1233.2,732.4 L1230.7,730.8 L1228.1,729.2 L1225.5,727.6 L1222.8,726.1 L1220.1,724.7 L1217.4,723.3 L1214.6,722.0 L1211.8,720.8 L1209.0,719.6 L1206.2,718.4 L1203.3,717.3 L1200.4,716.3 L1197.6,715.3 L1194.6,714.4 L1191.7,713.5 L1188.8,712.6 L1185.9,711.9 L1182.9,711.1 L1179.9,710.5 L1177.0,709.8 L1174.0,709.2 L1171.0,708.7 L1168.0,708.2 L1165.0,707.7 L1162.0,707.3 L1159.0,707.0 L1155.9,706.6 L1152.9,706.3 L1149.9,706.1 L1146.8,705.9 L1143.8,705.7 L1140.8,705.5 L1137.7,705.4 L1134.7,705.3 L1131.7,705.3 L1128.6,705.3 L1125.6,705.3 L1122.5,705.3 L1119.5,705.4 L1116.5,705.5 L1113.4,705.6 L1110.4,705.7 L1107.4,705.8 L1104.3,706.0 L1101.3,706.1 L1098.3,706.3 L1095.2,706.5 L1092.2,706.7 L1089.2,706.8 L1086.2,707.0 L1083.1,707.2 L1080.1,707.4 L1077.1,707.6 L1074.1,707.8 L1071.0,707.9 L1068.0,708.1 L1065.0,708.2 L1062.0,708.4 L1059.0,708.5 L1056.0,708.6 L1052.9,708.6 L1049.9,708.7 L1046.9,708.7 L1043.9,708.7 L1040.9,708.6 L1037.9,708.6 L1034.9,708.5 L1031.9,708.3 L1028.9,708.2 L1025.9,708.0 L1022.9,707.7 L1019.9,707.4 L1016.9,707.1 L1013.9,706.7 L1011.0,706.2 L1008.0,705.7 L1005.0,705.2 L1002.0,704.6 L999.0,703.9 L996.1,703.2 L993.1,702.4 L990.1,701.6 L987.1,700.6 L984.2,699.7"/>
<path d="M1101.2,869.8 L1061.7,814.2"/>
<path d="M1133.9,869.8 L1171.7,814.3"/>
<path d="M1135.8,979.1 L1132.7,977.1 L1130.0,974.9 L1127.5,972.6 L1125.3,970.1 L1123.4,967.5 L1121.7,964.9 L1120.3,962.1 L1119.1,959.2 L1118.0,956.3 L1117.2,953.3 L1116.5,950.2 L1115.9,947.1 L1115.5,943.9 L1115.2,940.8 L1115.0,937.6 L1114.9,934.4 L1114.8,931.2 L1114.8,928.0 L1114.8,924.8"/>
<path d="M1300.4,983.6 L1172.0,921.1"/>
</g>
<g stroke="#000" stroke-width="1.35">
<rect x="1207.5" y="5.8" width="99.0" height="48.0" fill="#fff"/>
<rect x="1204.8" y="115.1" width="104.0" height="48.0" fill="#fff"/>
<rect x="840.5" y="213.8" width="136.5" height="48.1" fill="#fff"/>
<rect x="1000.6" y="213.8" width="72.6" height="48.1" fill="#fff"/>
<rect x="1097.4" y="213.8" width="121.6" height="48.1" fill="#fff"/>
<rect x="1293.8" y="213.8" width="80.9" height="48.1" fill="#fff"/>
<rect x="1397.7" y="213.8" width="72.9" height="48.1" fill="#fff"/>
<rect x="1165.0" y="323.4" width="109.4" height="47.8" fill="#fff"/>
<rect x="219.5" y="432.3" width="71.9" height="48.2" fill="#fff"/>
<rect x="582.5" y="432.4" width="127.8" height="48.1" fill="#fff"/>
<rect x="1452.9" y="432.4" width="72.0" height="48.3" fill="#fff"/>
<rect x="1573.2" y="432.4" width="105.7" height="48.3" fill="#fff"/>
<rect x="158.6" y="541.7" width="108.3" height="48.4" fill="#fff"/>
<rect x="639.8" y="541.7" width="135.2" height="48.5" fill="#fff"/>
<rect x="849.8" y="541.7" width="128.7" height="48.5" fill="#fff"/>
<rect x="1053.4" y="541.9" width="113.6" height="48.0" fill="#fff"/>
<rect x="1191.4" y="541.9" width="77.7" height="48.0" fill="#fff"/>
<rect x="31.1" y="650.9" width="120.6" height="48.4" fill="#fff"/>
<rect x="175.7" y="650.9" width="124.8" height="48.4" fill="#fff"/>
<rect x="323.9" y="650.9" width="103.2" height="48.4" fill="#fff"/>
<rect x="451.2" y="650.9" width="72.4" height="48.4" fill="#fff"/>
<rect x="868.1" y="651.3" width="102.7" height="48.0" fill="#fff"/>
<rect x="995.5" y="651.2" width="106.9" height="48.0" fill="#fff"/>
<rect x="776.6" y="760.6" width="106.9" height="48.2" fill="#fff"/>
<rect x="974.7" y="760.6" width="132.1" height="48.2" fill="#fff"/>
<rect x="1131.1" y="760.6" width="117.9" height="48.2" fill="#fff"/>
<rect x="1060.1" y="869.9" width="116.3" height="48.1" fill="#dcdcff"/>
<rect x="1096.0" y="979.1" width="134.9" height="48.1" fill="#fff"/>
<rect x="1300.4" y="979.1" width="72.6" height="48.1" fill="#fff"/>
</g>
<g stroke="#000" stroke-width="1.2" stroke-linejoin="miter">
<polygon points="1230.3,54.3 1226.9,60.5 1223.7,56.7" fill="#000"/>
<polygon points="1268.4,115.0 1269.5,101.3 1277.9,105.0" fill="#fff"/>
<polygon points="1204.6,139.8 1191.6,144.5 1191.6,135.3" fill="#fff"/>
<polygon points="1204.6,146.8 1198.4,150.1 1197.7,145.2" fill="#000"/>
<polygon points="1204.6,162.6 1194.4,171.9 1190.8,163.4" fill="#fff"/>
<polygon points="1233.5,163.2 1227.4,175.6 1221.0,169.0" fill="#fff"/>
<polygon points="1256.0,163.2 1259.9,176.4 1250.7,175.9" fill="#fff"/>
<polygon points="1276.0,163.2 1287.7,170.5 1280.5,176.2" fill="#fff"/>
<polygon points="1301.1,164.3 1314.7,166.3 1310.4,174.5" fill="#fff"/>
<polygon points="1309.1,144.5 1322.8,143.1 1320.7,152.0" fill="#fff"/>
<polygon points="1309.1,142.8 1322.8,140.9 1320.9,149.9" fill="#fff"/>
<polygon points="902.9,262.3 905.6,268.8 900.6,269.0" fill="#000"/>
<polygon points="953.3,262.3 960.3,263.1 958.0,267.6" fill="#000"/>
<polygon points="1063.2,261.8 1069.9,264.0 1066.8,267.9" fill="#000"/>
<polygon points="1167.3,262.5 1171.6,268.1 1166.8,269.5" fill="#000"/>
<polygon points="1309.7,262.3 1306.6,268.6 1303.2,265.0" fill="#000"/>
<polygon points="1405.8,262.3 1401.7,268.0 1398.9,263.9" fill="#000"/>
<polygon points="1440.9,262.3 1443.2,269.0 1438.2,268.8" fill="#000"/>
<polygon points="1274.6,337.5 1281.6,336.4 1280.6,341.3" fill="#000"/>
<polygon points="1164.6,348.4 1158.0,351.0 1158.0,346.0" fill="#000"/>
<polygon points="1164.6,354.0 1152.0,359.6 1151.3,350.4" fill="#fff"/>
<polygon points="1164.6,357.0 1152.7,363.9 1151.0,354.9" fill="#fff"/>
<polygon points="1164.6,358.0 1158.3,361.2 1157.8,356.2" fill="#000"/>
<polygon points="1167.6,371.5 1163.7,377.4 1160.8,373.3" fill="#000"/>
<polygon points="1215.6,371.3 1217.1,378.2 1212.1,377.4" fill="#000"/>
<polygon points="1240.3,371.3 1251.6,379.2 1244.2,384.5" fill="#fff"/>
<polygon points="1256.6,371.3 1268.6,378.0 1261.7,384.1" fill="#fff"/>
<polygon points="1274.6,357.0 1281.4,355.1 1280.9,360.1" fill="#000"/>
<polygon points="1274.6,360.0 1281.5,358.5 1280.7,363.5" fill="#000"/>
<polygon points="1274.6,356.2 1281.5,354.8 1280.7,359.8" fill="#000"/>
<polygon points="1274.6,352.4 1281.4,350.5 1281.0,355.4" fill="#000"/>
<polygon points="582.3,463.4 575.8,466.2 575.6,461.2" fill="#000"/>
<polygon points="582.3,464.5 575.9,467.4 575.5,462.4" fill="#000"/>
<polygon points="582.3,465.5 575.9,468.4 575.5,463.4" fill="#000"/>
<polygon points="582.3,467.7 576.1,471.1 575.4,466.2" fill="#000"/>
<polygon points="582.3,469.8 576.6,474.0 575.3,469.2" fill="#000"/>
<polygon points="582.3,477.3 577.0,482.0 575.2,477.4" fill="#000"/>
<polygon points="631.1,481.2 629.4,488.0 625.3,485.2" fill="#000"/>
<polygon points="659.8,481.2 665.2,485.7 660.9,488.2" fill="#000"/>
<polygon points="710.8,480.5 724.5,482.0 720.5,490.3" fill="#fff"/>
<polygon points="710.6,468.8 724.3,467.0 722.4,476.0" fill="#fff"/>
<polygon points="710.6,468.2 724.2,465.8 722.7,474.8" fill="#fff"/>
<polygon points="710.6,467.5 724.1,464.5 723.0,473.6" fill="#fff"/>
<polygon points="710.6,466.8 717.5,465.1 716.8,470.1" fill="#000"/>
<polygon points="186.9,590.1 180.1,602.1 174.1,595.2" fill="#fff"/>
<polygon points="218.2,590.1 225.7,601.7 216.7,603.8" fill="#fff"/>
<polygon points="247.0,590.1 260.4,593.4 255.3,601.1" fill="#fff"/>
<polygon points="267.2,585.8 281.0,585.5 278.1,594.2" fill="#fff"/>
<polygon points="911.3,590.3 915.5,603.4 906.3,603.2" fill="#fff"/>
<polygon points="919.4,590.3 924.1,595.5 919.5,597.4" fill="#000"/>
<polygon points="883.8,699.5 880.5,705.7 877.2,702.0" fill="#000"/>
<polygon points="922.8,699.5 928.4,712.1 919.2,712.8" fill="#fff"/>
<polygon points="945.5,699.5 958.3,704.6 952.2,711.5" fill="#fff"/>
<polygon points="971.6,697.1 985.4,697.4 982.1,706.0" fill="#fff"/>
<polygon points="971.6,696.4 985.3,695.2 983.0,704.1" fill="#fff"/>
<polygon points="1057.9,808.8 1063.8,812.7 1059.7,815.6" fill="#000"/>
<polygon points="1175.4,808.8 1173.8,815.7 1169.6,812.9" fill="#000"/>
<polygon points="1114.8,918.2 1117.3,924.8 1112.3,924.8" fill="#000"/>
<polygon points="1166.1,918.2 1173.1,918.8 1170.9,923.3" fill="#000"/>
</g>
<g font-family='"Liberation Sans", sans-serif' font-size="11" fill="#000">
<text x="1256.5" y="31.2" text-anchor="middle" font-style="italic" textLength="75.3" lengthAdjust="spacingAndGlyphs">History Change</text>
<text x="1256.3" y="140.5" text-anchor="middle" font-style="italic" textLength="82.4" lengthAdjust="spacingAndGlyphs">Managed Object</text>
<text x="908.2" y="240.5" text-anchor="middle" textLength="113.5" lengthAdjust="spacingAndGlyphs">ServiceConnectionPoint</text>
<text x="1036.4" y="240.5" text-anchor="middle" textLength="15.2" lengthAdjust="spacingAndGlyphs">Kpi</text>
<text x="1157.7" y="240.5" text-anchor="middle" textLength="98.9" lengthAdjust="spacingAndGlyphs">ScheduledDowntime</text>
<text x="1333.8" y="240.5" text-anchor="middle" textLength="57.9" lengthAdjust="spacingAndGlyphs">PolicyResult</text>
<text x="1433.7" y="240.5" text-anchor="middle" textLength="34.7" lengthAdjust="spacingAndGlyphs">Outage</text>
<text x="1219.2" y="348.7" text-anchor="middle" font-style="italic" textLength="85.4" lengthAdjust="spacingAndGlyphs">ConfigurationItem</text>
<text x="254.9" y="459.1" text-anchor="middle" textLength="32.4" lengthAdjust="spacingAndGlyphs">Tenant</text>
<text x="645.9" y="457.8" text-anchor="middle" font-style="italic" textLength="106.2" lengthAdjust="spacingAndGlyphs">InfrastructureElement</text>
<text x="1488.4" y="459.2" text-anchor="middle" textLength="28.4" lengthAdjust="spacingAndGlyphs">Asset</text>
<text x="1625.6" y="457.9" text-anchor="middle" font-style="italic" textLength="82.5" lengthAdjust="spacingAndGlyphs">ItProcessRecord</text>
<text x="212.2" y="567.3" text-anchor="middle" font-style="italic" textLength="86.0" lengthAdjust="spacingAndGlyphs">BusinessElement</text>
<text x="706.9" y="568.7" text-anchor="middle" textLength="112.2" lengthAdjust="spacingAndGlyphs">ClusterResourceConfig</text>
<text x="913.6" y="567.4" text-anchor="middle" font-style="italic" textLength="106.2" lengthAdjust="spacingAndGlyphs">Application Resource</text>
<text x="1109.7" y="567.3" text-anchor="middle" font-style="italic" textLength="91.1" lengthAdjust="spacingAndGlyphs">ApplicationSystem</text>
<text x="1229.8" y="568.6" text-anchor="middle" textLength="54.7" lengthAdjust="spacingAndGlyphs">CiCollection</text>
<text x="90.9" y="677.8" text-anchor="middle" textLength="97.7" lengthAdjust="spacingAndGlyphs">BusinessApplication</text>
<text x="237.6" y="677.8" text-anchor="middle" textLength="101.9" lengthAdjust="spacingAndGlyphs">BusinessTransaction</text>
<text x="375.0" y="677.8" text-anchor="middle" textLength="81.0" lengthAdjust="spacingAndGlyphs">BusinessActivity</text>
<text x="486.9" y="676.5" text-anchor="middle" font-style="italic" textLength="36.4" lengthAdjust="spacingAndGlyphs">Service</text>
<text x="919.0" y="678.0" text-anchor="middle" textLength="79.8" lengthAdjust="spacingAndGlyphs">Azure Resource</text>
<text x="1048.5" y="677.9" text-anchor="middle" textLength="84.8" lengthAdjust="spacingAndGlyphs">RunningSoftware</text>
<text x="829.5" y="787.4" text-anchor="middle" textLength="84.8" lengthAdjust="spacingAndGlyphs">Terraform Module</text>
<text x="1040.2" y="787.4" text-anchor="middle" textLength="109.8" lengthAdjust="spacingAndGlyphs">Azure Private Endpoint</text>
<text x="1189.5" y="787.4" text-anchor="middle" textLength="94.3" lengthAdjust="spacingAndGlyphs">Azure Firewall Rule</text>
<text x="1117.8" y="896.7" text-anchor="middle" textLength="93.4" lengthAdjust="spacingAndGlyphs">Azure Redis Cache</text>
<text x="1163.0" y="1005.9" text-anchor="middle" textLength="112.4" lengthAdjust="spacingAndGlyphs">Azure Resource Group</text>
<text x="1336.2" y="1005.9" text-anchor="middle" textLength="41.2" lengthAdjust="spacingAndGlyphs">Location</text>
<text x="1247.2" y="87.0" text-anchor="middle" textLength="54.9" lengthAdjust="spacingAndGlyphs">History Link</text>
<text x="475.4" y="295.0" text-anchor="middle" textLength="53.2" lengthAdjust="spacingAndGlyphs">Connection</text>
<text x="327.5" y="405.0" text-anchor="middle" textLength="53.2" lengthAdjust="spacingAndGlyphs">Connection</text>
<text x="940.3" y="295.0" text-anchor="middle" textLength="58.4" lengthAdjust="spacingAndGlyphs">Composition</text>
<text x="1063.5" y="295.0" text-anchor="middle" textLength="50.2" lengthAdjust="spacingAndGlyphs">Ownership</text>
<text x="1142.5" y="295.0" text-anchor="middle" textLength="58.4" lengthAdjust="spacingAndGlyphs">Composition</text>
<text x="1210.4" y="295.0" text-anchor="middle" textLength="53.2" lengthAdjust="spacingAndGlyphs">Connection</text>
<text x="1314.2" y="295.0" text-anchor="middle" textLength="56.7" lengthAdjust="spacingAndGlyphs">Aggregation</text>
<text x="1398.3" y="295.0" text-anchor="middle" textLength="58.4" lengthAdjust="spacingAndGlyphs">Composition</text>
<text x="1467.5" y="295.0" text-anchor="middle" textLength="53.2" lengthAdjust="spacingAndGlyphs">Connection</text>
<text x="1341.3" y="350.0" text-anchor="middle" textLength="87.6" lengthAdjust="spacingAndGlyphs">ConsumerProvider</text>
<text x="1439.3" y="405.0" text-anchor="middle" textLength="53.2" lengthAdjust="spacingAndGlyphs">Connection</text>
<text x="1532.4" y="405.0" text-anchor="middle" textLength="57.8" lengthAdjust="spacingAndGlyphs">Membership</text>
<text x="1611.2" y="405.0" text-anchor="middle" textLength="53.2" lengthAdjust="spacingAndGlyphs">Connection</text>
<text x="1062.3" y="458.9" text-anchor="middle" textLength="56.7" lengthAdjust="spacingAndGlyphs">Aggregation</text>
<text x="1133.9" y="458.9" text-anchor="middle" textLength="59.6" lengthAdjust="spacingAndGlyphs">Containment</text>
<text x="1241.3" y="458.9" text-anchor="middle" textLength="57.8" lengthAdjust="spacingAndGlyphs">Membership</text>
<text x="303.0" y="514.0" text-anchor="middle" textLength="30.4" lengthAdjust="spacingAndGlyphs">Usage</text>
<text x="709.4" y="514.0" text-anchor="middle" textLength="59.0" lengthAdjust="spacingAndGlyphs">Dependency</text>
<text x="1047.9" y="513.8" text-anchor="middle" textLength="30.4" lengthAdjust="spacingAndGlyphs">Usage</text>
<text x="41.9" y="569.0" text-anchor="middle" textLength="59.6" lengthAdjust="spacingAndGlyphs">Containment</text>
<text x="128.8" y="569.0" text-anchor="middle" textLength="30.4" lengthAdjust="spacingAndGlyphs">Usage</text>
<text x="386.9" y="569.0" text-anchor="middle" textLength="30.4" lengthAdjust="spacingAndGlyphs">Usage</text>
<text x="456.7" y="569.0" text-anchor="middle" textLength="30.4" lengthAdjust="spacingAndGlyphs">Usage</text>
<text x="522.7" y="569.0" text-anchor="middle" textLength="59.6" lengthAdjust="spacingAndGlyphs">Containment</text>
<text x="603.8" y="569.0" text-anchor="middle" textLength="30.4" lengthAdjust="spacingAndGlyphs">Usage</text>
<text x="966.2" y="623.2" text-anchor="middle" textLength="58.4" lengthAdjust="spacingAndGlyphs">Composition</text>
<text x="1431.0" y="678.0" text-anchor="middle" textLength="57.8" lengthAdjust="spacingAndGlyphs">Membership</text>
<text x="886.9" y="733.4" text-anchor="middle" textLength="59.6" lengthAdjust="spacingAndGlyphs">Containment</text>
<text x="1096.9" y="842.0" text-anchor="middle" textLength="30.4" lengthAdjust="spacingAndGlyphs">Usage</text>
<text x="1171.6" y="842.0" text-anchor="middle" textLength="30.4" lengthAdjust="spacingAndGlyphs">Usage</text>
<text x="1148.6" y="951.0" text-anchor="middle" textLength="58.4" lengthAdjust="spacingAndGlyphs">Composition</text>
<text x="1262.3" y="951.0" text-anchor="middle" textLength="57.8" lengthAdjust="spacingAndGlyphs">Membership</text>
</g></svg></body></html>
